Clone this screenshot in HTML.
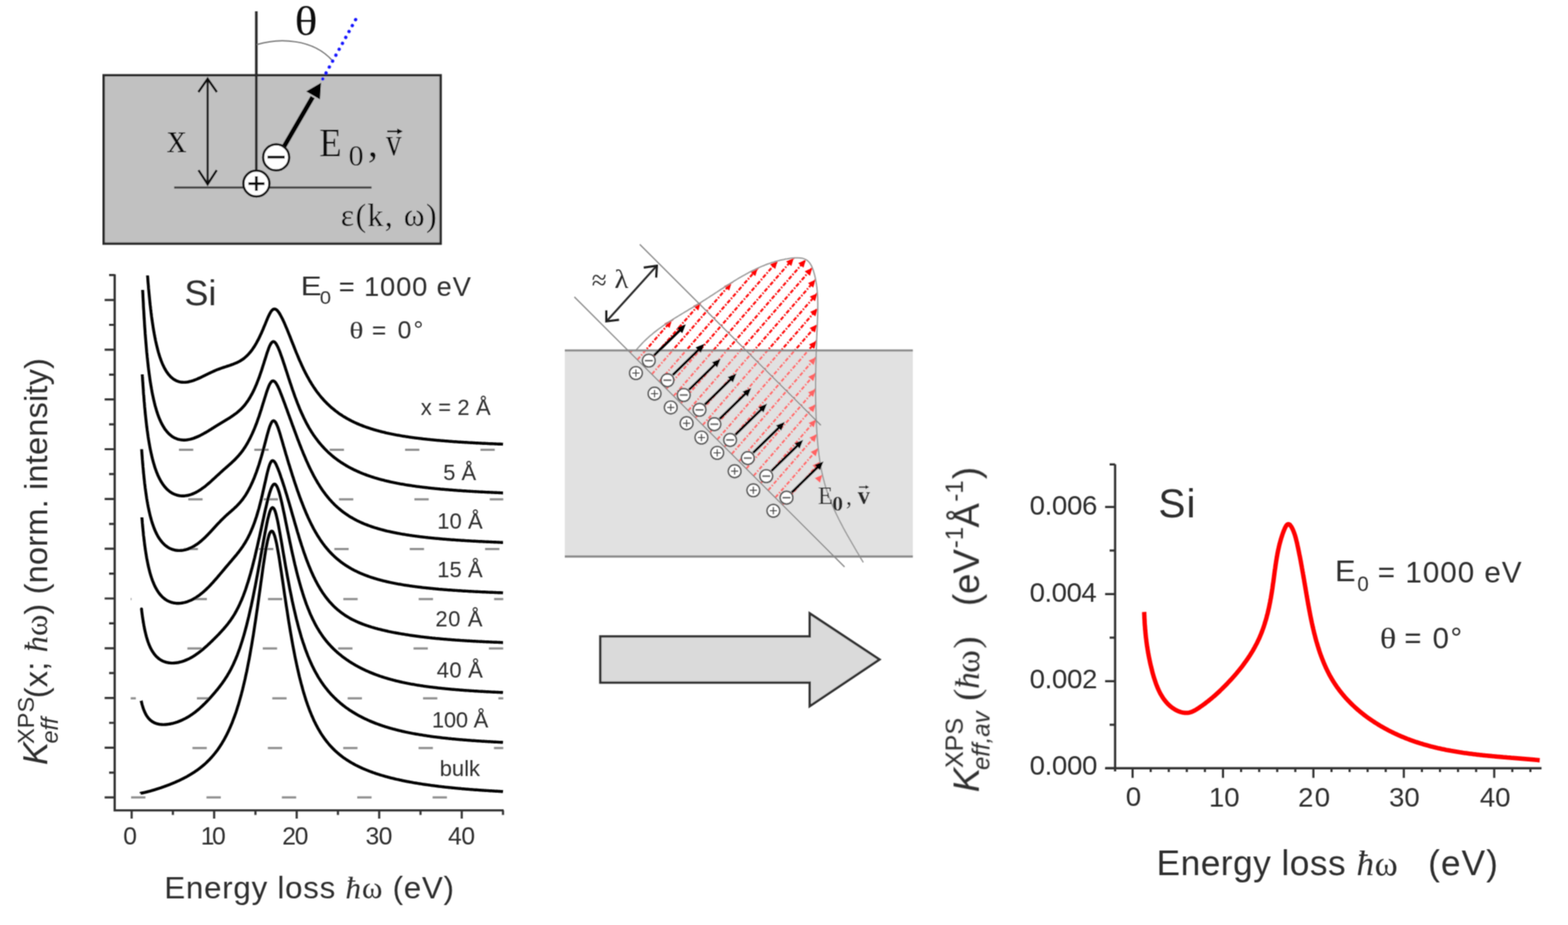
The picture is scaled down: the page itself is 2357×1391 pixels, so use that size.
<!DOCTYPE html>
<html><head><meta charset="utf-8"><title>Figure</title>
<style>html,body{margin:0;padding:0;background:#fff;}svg{display:block;}</style>
</head><body>
<svg width="2357" height="1391" viewBox="0 0 2357 1391">
<defs><filter id="soft" x="0" y="0" width="2357" height="1391" filterUnits="userSpaceOnUse"><feConvolveMatrix order="3" kernelMatrix="1 2 1 2 4 2 1 2 1" divisor="16" edgeMode="duplicate"/></filter></defs>
<rect width="100%" height="100%" fill="#fff"/>
<g filter="url(#soft)">
<rect x="155.8" y="113.2" width="506.6" height="253.2" fill="#c1c1c1" stroke="#2b2b2b" stroke-width="3.6"/>
<line x1="385.3" y1="17" x2="385.3" y2="262" stroke="#2a2a2a" stroke-width="3.9"/>
<path d="M386,67 C420,57 470,58 499.5,91" fill="none" stroke="#777" stroke-width="2"/>
<line x1="534.6" y1="29.5" x2="480.3" y2="127.5" stroke="#1515ff" stroke-width="5" stroke-linecap="round" stroke-dasharray="0.1 10.09"/>
<line x1="312.1" y1="118" x2="312.1" y2="278" stroke="#111" stroke-width="3.1"/>
<polyline points="298.2,138.5 312.1,118.5 326,138.5" fill="none" stroke="#111" stroke-width="3.4" stroke-linejoin="miter"/>
<polyline points="298.4,255.8 312.1,277 325.8,255.8" fill="none" stroke="#111" stroke-width="3.4" stroke-linejoin="miter"/>
<line x1="261.8" y1="281.9" x2="558.5" y2="281.9" stroke="#3a3a3a" stroke-width="3"/>
<line x1="426" y1="222" x2="470" y2="146" stroke="#000" stroke-width="7"/>
<polygon points="482.5,124.5 460.3,137.5 481,149.5" fill="#000"/>
<circle cx="385.4" cy="276" r="19.6" fill="#fff" stroke="#151515" stroke-width="3.5"/>
<line x1="373.5" y1="276.2" x2="397.5" y2="276.2" stroke="#111" stroke-width="4"/>
<line x1="385.4" y1="265" x2="385.4" y2="287" stroke="#111" stroke-width="4"/>
<circle cx="415.1" cy="236.7" r="19.6" fill="#fff" stroke="#151515" stroke-width="3.5"/>
<line x1="402.2" y1="236.3" x2="428" y2="236.3" stroke="#111" stroke-width="4"/>
<line x1="582" y1="197.6" x2="601" y2="197.6" stroke="#111" stroke-width="2.4"/>
<polygon points="605.5,197.6 597,193.2 597,202" fill="#111"/>
<path d="M269.0,676.3H290.5M382.3,676.3H403.8M495.6,676.3H517.1M608.9,676.3H630.4M722.2,676.3H743.7" stroke="#8c8c8c" stroke-width="3.2" fill="none"/>
<path d="M283.0,750.8H304.5M396.3,750.8H417.8M509.6,750.8H531.1M622.9,750.8H644.4M736.2,750.8H756.5" stroke="#8c8c8c" stroke-width="3.2" fill="none"/>
<path d="M276.0,825.7H297.5M389.3,825.7H410.8M502.6,825.7H524.1M615.9,825.7H637.4M729.2,825.7H750.7" stroke="#8c8c8c" stroke-width="3.2" fill="none"/>
<path d="M196.5,900.9H197.7M289.5,900.9H311.0M402.8,900.9H424.3M516.1,900.9H537.6M629.4,900.9H650.9M742.7,900.9H756.5" stroke="#8c8c8c" stroke-width="3.2" fill="none"/>
<path d="M281.7,975.1H303.2M395.0,975.1H416.5M508.3,975.1H529.8M621.6,975.1H643.1M734.9,975.1H756.4" stroke="#8c8c8c" stroke-width="3.2" fill="none"/>
<path d="M196.5,1050.1H204.2M296.0,1050.1H317.5M409.3,1050.1H430.8M522.6,1050.1H544.1M635.9,1050.1H657.4M749.2,1050.1H756.5" stroke="#8c8c8c" stroke-width="3.2" fill="none"/>
<path d="M289.3,1124.8H310.8M402.6,1124.8H424.1M515.9,1124.8H537.4M629.2,1124.8H650.7M742.5,1124.8H756.5" stroke="#8c8c8c" stroke-width="3.2" fill="none"/>
<path d="M197.1,1199.2H218.6M310.4,1199.2H331.9M423.7,1199.2H445.2M537.0,1199.2H558.5M650.3,1199.2H671.8" stroke="#8c8c8c" stroke-width="3.2" fill="none"/>
<path d="M221.8,414.3 L221.8,414.8 L222.1,417.9 L222.3,421.0 L222.5,424.1 L222.8,427.3 L223.1,430.4 L223.3,433.5 L223.6,436.6 L223.9,439.8 L224.2,442.9 L224.5,446.0 L224.8,449.1 L225.1,452.1 L225.4,455.2 L225.7,458.2 L226.1,461.2 L226.4,464.2 L226.8,467.2 L227.1,470.1 L227.5,473.0 L227.8,475.8 L228.2,478.6 L228.6,481.4 L229.0,484.2 L229.4,486.9 L229.8,489.5 L230.2,492.2 L230.6,494.7 L231.0,497.3 L231.5,499.8 L231.9,502.2 L232.4,504.7 L232.8,507.0 L233.3,509.3 L233.7,511.6 L234.2,513.9 L234.7,516.0 L235.2,518.2 L235.7,520.3 L236.2,522.3 L236.7,524.4 L237.2,526.3 L237.7,528.2 L238.2,530.1 L238.8,531.9 L239.3,533.7 L239.9,535.5 L240.4,537.2 L241.0,538.8 L241.6,540.4 L242.1,542.0 L242.7,543.5 L243.3,545.0 L243.9,546.5 L244.5,547.9 L245.1,549.2 L245.8,550.6 L246.4,551.9 L247.0,553.1 L247.7,554.3 L248.3,555.5 L249.0,556.6 L249.6,557.7 L250.3,558.7 L251.0,559.8 L251.7,560.7 L252.3,561.7 L253.0,562.6 L253.7,563.5 L254.5,564.3 L255.2,565.1 L255.9,565.9 L256.6,566.6 L257.4,567.3 L258.1,568.0 L258.9,568.6 L259.6,569.2 L260.4,569.8 L261.2,570.3 L262.0,570.8 L262.7,571.3 L263.5,571.7 L264.3,572.2 L265.1,572.5 L266.0,572.9 L266.8,573.2 L267.6,573.5 L268.2,573.7 L269.5,574.1 L270.7,574.3 L271.9,574.6 L273.1,574.7 L274.4,574.8 L275.6,574.9 L276.8,574.9 L278.0,574.9 L279.2,574.8 L280.5,574.6 L281.7,574.5 L282.9,574.3 L284.1,574.0 L285.4,573.7 L286.6,573.4 L287.8,573.1 L289.0,572.7 L290.3,572.3 L291.5,571.9 L292.7,571.4 L293.9,571.0 L295.1,570.5 L296.4,570.0 L297.6,569.4 L298.8,568.9 L300.0,568.4 L301.3,567.8 L302.5,567.2 L303.7,566.6 L304.9,566.0 L306.1,565.4 L307.4,564.8 L308.6,564.2 L309.8,563.6 L311.0,563.0 L312.3,562.4 L313.5,561.8 L314.7,561.3 L315.9,560.7 L317.2,560.1 L318.4,559.5 L319.6,559.0 L320.8,558.4 L322.0,557.9 L323.3,557.3 L324.5,556.8 L325.7,556.3 L326.9,555.8 L328.2,555.3 L329.4,554.9 L330.6,554.4 L331.8,554.0 L333.0,553.5 L334.3,553.1 L335.5,552.7 L336.7,552.3 L337.9,551.9 L339.2,551.5 L340.4,551.1 L341.6,550.7 L342.8,550.3 L344.1,549.9 L345.3,549.5 L346.5,549.1 L347.7,548.6 L348.9,548.2 L350.2,547.8 L351.4,547.3 L352.6,546.8 L353.8,546.3 L355.1,545.8 L356.3,545.2 L357.5,544.6 L358.7,544.0 L359.9,543.4 L361.2,542.7 L362.4,541.9 L363.6,541.1 L364.8,540.3 L366.1,539.4 L367.3,538.5 L368.5,537.4 L369.7,536.4 L371.0,535.2 L372.2,534.0 L373.4,532.8 L374.6,531.4 L375.8,530.0 L377.1,528.5 L378.3,526.9 L379.5,525.2 L380.7,523.4 L382.0,521.6 L383.2,519.6 L384.4,517.6 L385.6,515.5 L386.8,513.2 L388.1,510.9 L389.3,508.5 L390.5,506.0 L391.7,503.4 L393.0,500.7 L394.2,497.9 L395.4,495.1 L396.6,492.1 L397.9,489.2 L399.1,486.2 L400.3,483.2 L401.5,480.3 L402.7,477.5 L404.0,474.8 L405.2,472.3 L406.4,470.1 L407.6,468.2 L408.9,466.6 L410.1,465.5 L411.3,464.8 L412.5,464.6 L413.7,464.8 L415.0,465.4 L416.2,466.3 L417.4,467.6 L418.6,469.1 L419.9,471.0 L421.1,473.0 L422.3,475.2 L423.5,477.5 L424.8,480.0 L426.0,482.6 L427.2,485.2 L428.4,488.0 L429.6,490.9 L430.9,493.8 L432.1,496.8 L433.3,499.8 L434.5,502.8 L435.8,505.9 L437.0,509.0 L438.2,512.1 L439.4,515.2 L440.7,518.3 L441.9,521.4 L443.1,524.5 L444.3,527.5 L445.5,530.5 L446.8,533.5 L448.0,536.4 L449.2,539.3 L450.4,542.1 L451.7,544.9 L452.9,547.6 L454.1,550.3 L455.3,552.9 L456.5,555.5 L457.8,558.0 L459.0,560.4 L460.2,562.8 L461.4,565.1 L462.7,567.3 L463.9,569.5 L465.1,571.7 L466.3,573.8 L467.6,575.8 L468.8,577.8 L470.0,579.7 L471.2,581.6 L472.4,583.4 L473.7,585.2 L474.9,587.0 L476.1,588.7 L477.3,590.3 L478.6,591.9 L479.8,593.5 L481.0,595.0 L482.2,596.5 L483.4,597.9 L484.7,599.3 L485.9,600.7 L487.1,602.1 L488.3,603.4 L489.6,604.6 L490.8,605.9 L492.0,607.1 L493.2,608.3 L494.5,609.4 L495.7,610.6 L496.9,611.7 L498.1,612.8 L499.3,613.8 L500.6,614.8 L501.8,615.8 L503.0,616.8 L504.2,617.8 L505.5,618.7 L506.7,619.6 L507.9,620.5 L509.1,621.4 L510.3,622.3 L511.6,623.1 L512.8,623.9 L514.0,624.7 L515.2,625.5 L516.5,626.3 L517.7,627.0 L518.9,627.7 L520.1,628.5 L521.4,629.2 L522.6,629.9 L523.8,630.5 L525.0,631.2 L526.2,631.8 L527.5,632.5 L528.7,633.1 L529.9,633.7 L531.1,634.3 L532.4,634.9 L533.6,635.5 L534.8,636.0 L536.0,636.6 L537.2,637.1 L538.5,637.6 L539.7,638.1 L540.9,638.7 L542.1,639.2 L543.4,639.6 L544.6,640.1 L545.8,640.6 L547.0,641.1 L548.3,641.5 L549.5,642.0 L550.7,642.4 L551.9,642.8 L553.1,643.2 L554.4,643.6 L555.6,644.0 L556.8,644.4 L558.0,644.8 L559.3,645.2 L560.5,645.6 L561.7,646.0 L562.9,646.3 L564.2,646.7 L565.4,647.0 L566.6,647.4 L567.8,647.7 L569.0,648.0 L570.3,648.4 L571.5,648.7 L572.7,649.0 L573.9,649.3 L575.2,649.6 L576.4,649.9 L577.6,650.2 L578.8,650.5 L580.0,650.8 L581.3,651.1 L582.5,651.3 L583.7,651.6 L584.9,651.9 L586.2,652.1 L587.4,652.4 L588.6,652.6 L589.8,652.9 L591.1,653.1 L592.3,653.4 L593.5,653.6 L594.7,653.8 L595.9,654.1 L597.2,654.3 L598.4,654.5 L599.6,654.7 L600.8,654.9 L602.1,655.2 L603.3,655.4 L604.5,655.6 L605.7,655.8 L606.9,656.0 L608.2,656.2 L609.4,656.4 L610.6,656.6 L611.8,656.7 L613.1,656.9 L614.3,657.1 L615.5,657.3 L616.7,657.5 L618.0,657.6 L619.2,657.8 L620.4,658.0 L621.6,658.1 L622.8,658.3 L624.1,658.5 L625.3,658.6 L626.5,658.8 L627.7,658.9 L629.0,659.1 L630.2,659.2 L631.4,659.4 L632.6,659.5 L633.8,659.7 L635.1,659.8 L636.3,660.0 L637.5,660.1 L638.7,660.2 L640.0,660.4 L641.2,660.5 L642.4,660.6 L643.6,660.8 L644.9,660.9 L646.1,661.0 L647.3,661.1 L648.5,661.3 L649.7,661.4 L651.0,661.5 L652.2,661.6 L653.4,661.7 L654.6,661.9 L655.9,662.0 L657.1,662.1 L658.3,662.2 L659.5,662.3 L660.7,662.4 L662.0,662.5 L663.2,662.6 L664.4,662.7 L665.6,662.8 L666.9,662.9 L668.1,663.0 L669.3,663.1 L670.5,663.2 L671.8,663.3 L673.0,663.4 L674.2,663.5 L675.4,663.6 L676.6,663.7 L677.9,663.8 L679.1,663.9 L680.3,664.0 L681.5,664.1 L682.8,664.2 L684.0,664.2 L685.2,664.3 L686.4,664.4 L687.6,664.5 L688.9,664.6 L690.1,664.7 L691.3,664.7 L692.5,664.8 L693.8,664.9 L695.0,665.0 L696.2,665.0 L697.4,665.1 L698.7,665.2 L699.9,665.3 L701.1,665.3 L702.3,665.4 L703.5,665.5 L704.8,665.6 L706.0,665.6 L707.2,665.7 L708.4,665.8 L709.7,665.8 L710.9,665.9 L712.1,666.0 L713.3,666.0 L714.6,666.1 L715.8,666.2 L717.0,666.2 L718.2,666.3 L719.4,666.4 L720.7,666.4 L721.9,666.5 L723.1,666.5 L724.3,666.6 L725.6,666.7 L726.8,666.7 L728.0,666.8 L729.2,666.8 L730.4,666.9 L731.7,666.9 L732.9,667.0 L734.1,667.1 L735.3,667.1 L736.6,667.2 L737.8,667.2 L739.0,667.3 L740.2,667.3 L741.5,667.4 L742.7,667.4 L743.9,667.5 L745.1,667.5 L746.3,667.6 L747.6,667.6 L748.8,667.7 L750.0,667.7 L751.2,667.8 L752.5,667.8 L753.7,667.9 L754.9,667.9 L756.1,668.0" fill="none" stroke="#000" stroke-width="4.4" stroke-linejoin="round" stroke-linecap="butt"/>
<path d="M214.4,435.9 L214.4,436.4 L214.6,439.6 L214.8,442.9 L214.9,446.3 L215.1,449.7 L215.3,453.2 L215.5,456.7 L215.6,460.3 L215.8,464.0 L216.1,467.6 L216.3,471.3 L216.5,475.0 L216.7,478.8 L217.0,482.5 L217.2,486.2 L217.4,490.0 L217.7,493.7 L218.0,497.5 L218.2,501.2 L218.5,504.9 L218.8,508.6 L219.1,512.2 L219.4,515.8 L219.7,519.4 L220.0,523.0 L220.3,526.5 L220.6,530.0 L221.0,533.5 L221.3,536.9 L221.7,540.3 L222.0,543.6 L222.4,546.8 L222.7,550.1 L223.1,553.2 L223.5,556.4 L223.9,559.4 L224.3,562.5 L224.7,565.4 L225.1,568.3 L225.5,571.2 L225.9,574.0 L226.4,576.8 L226.8,579.5 L227.3,582.1 L227.7,584.7 L228.2,587.3 L228.6,589.7 L229.1,592.2 L229.6,594.6 L230.1,596.9 L230.6,599.2 L231.1,601.4 L231.6,603.6 L232.1,605.7 L232.6,607.8 L233.1,609.8 L233.7,611.8 L234.2,613.7 L234.8,615.6 L235.3,617.4 L235.9,619.2 L236.5,621.0 L237.0,622.7 L237.6,624.3 L238.2,625.9 L238.8,627.5 L239.4,629.0 L240.0,630.5 L240.7,631.9 L241.3,633.3 L241.9,634.7 L242.6,636.0 L243.2,637.3 L243.9,638.5 L244.5,639.7 L245.2,640.9 L245.9,642.0 L246.6,643.1 L247.2,644.2 L247.9,645.2 L248.6,646.2 L249.4,647.1 L250.1,648.1 L250.8,648.9 L251.5,649.8 L252.3,650.6 L253.0,651.4 L253.8,652.2 L254.5,652.9 L255.3,653.6 L256.1,654.2 L256.9,654.9 L257.6,655.5 L258.4,656.1 L259.2,656.6 L260.0,657.1 L260.9,657.6 L261.7,658.1 L262.5,658.5 L263.1,658.8 L264.4,659.3 L265.6,659.8 L266.8,660.3 L268.1,660.6 L269.3,660.9 L270.6,661.2 L271.8,661.4 L273.0,661.5 L274.3,661.6 L275.5,661.7 L276.7,661.7 L278.0,661.7 L279.2,661.6 L280.4,661.5 L281.7,661.3 L282.9,661.1 L284.1,660.9 L285.4,660.7 L286.6,660.4 L287.9,660.0 L289.1,659.7 L290.3,659.3 L291.6,658.9 L292.8,658.4 L294.0,657.9 L295.3,657.4 L296.5,656.9 L297.7,656.4 L299.0,655.8 L300.2,655.2 L301.4,654.6 L302.7,653.9 L303.9,653.3 L305.1,652.6 L306.4,651.9 L307.6,651.2 L308.9,650.5 L310.1,649.8 L311.3,649.1 L312.6,648.3 L313.8,647.6 L315.0,646.8 L316.3,646.1 L317.5,645.3 L318.7,644.5 L320.0,643.8 L321.2,643.0 L322.4,642.2 L323.7,641.5 L324.9,640.7 L326.2,639.9 L327.4,639.2 L328.6,638.4 L329.9,637.6 L331.1,636.9 L332.3,636.1 L333.6,635.4 L334.8,634.6 L336.0,633.9 L337.3,633.1 L338.5,632.4 L339.7,631.6 L341.0,630.8 L342.2,630.1 L343.5,629.3 L344.7,628.6 L345.9,627.8 L347.2,627.0 L348.4,626.2 L349.6,625.3 L350.9,624.5 L352.1,623.6 L353.3,622.7 L354.6,621.8 L355.8,620.9 L357.0,619.9 L358.3,618.8 L359.5,617.7 L360.7,616.6 L362.0,615.5 L363.2,614.2 L364.5,612.9 L365.7,611.6 L366.9,610.2 L368.2,608.7 L369.4,607.1 L370.6,605.4 L371.9,603.7 L373.1,601.9 L374.3,600.0 L375.6,598.0 L376.8,595.8 L378.0,593.6 L379.3,591.3 L380.5,588.9 L381.8,586.3 L383.0,583.6 L384.2,580.8 L385.5,577.9 L386.7,574.8 L387.9,571.7 L389.2,568.4 L390.4,565.0 L391.6,561.4 L392.9,557.8 L394.1,554.0 L395.3,550.1 L396.6,546.2 L397.8,542.2 L399.1,538.3 L400.3,534.4 L401.5,530.5 L402.8,526.9 L404.0,523.5 L405.2,520.5 L406.5,518.0 L407.7,516.0 L408.9,514.6 L410.2,513.8 L411.4,513.7 L412.6,514.3 L413.9,515.4 L415.1,517.1 L416.3,519.2 L417.6,521.7 L418.8,524.5 L420.1,527.6 L421.3,530.8 L422.5,534.2 L423.8,537.7 L425.0,541.3 L426.2,545.0 L427.5,548.8 L428.7,552.5 L429.9,556.3 L431.2,560.1 L432.4,563.9 L433.6,567.7 L434.9,571.5 L436.1,575.2 L437.4,578.9 L438.6,582.6 L439.8,586.2 L441.1,589.8 L442.3,593.2 L443.5,596.7 L444.8,600.0 L446.0,603.3 L447.2,606.5 L448.5,609.6 L449.7,612.6 L450.9,615.6 L452.2,618.5 L453.4,621.3 L454.7,624.0 L455.9,626.7 L457.1,629.3 L458.4,631.8 L459.6,634.2 L460.8,636.6 L462.1,638.9 L463.3,641.1 L464.5,643.3 L465.8,645.4 L467.0,647.4 L468.2,649.4 L469.5,651.3 L470.7,653.2 L471.9,655.0 L473.2,656.8 L474.4,658.5 L475.7,660.2 L476.9,661.8 L478.1,663.4 L479.4,665.0 L480.6,666.5 L481.8,667.9 L483.1,669.4 L484.3,670.8 L485.5,672.1 L486.8,673.5 L488.0,674.8 L489.2,676.0 L490.5,677.3 L491.7,678.5 L493.0,679.7 L494.2,680.8 L495.4,681.9 L496.7,683.0 L497.9,684.1 L499.1,685.2 L500.4,686.2 L501.6,687.2 L502.8,688.2 L504.1,689.1 L505.3,690.1 L506.5,691.0 L507.8,691.9 L509.0,692.8 L510.3,693.6 L511.5,694.5 L512.7,695.3 L514.0,696.1 L515.2,696.9 L516.4,697.7 L517.7,698.5 L518.9,699.2 L520.1,700.0 L521.4,700.7 L522.6,701.4 L523.8,702.1 L525.1,702.8 L526.3,703.4 L527.5,704.1 L528.8,704.7 L530.0,705.3 L531.3,706.0 L532.5,706.6 L533.7,707.1 L535.0,707.7 L536.2,708.3 L537.4,708.9 L538.7,709.4 L539.9,709.9 L541.1,710.5 L542.4,711.0 L543.6,711.5 L544.8,712.0 L546.1,712.5 L547.3,713.0 L548.6,713.4 L549.8,713.9 L551.0,714.4 L552.3,714.8 L553.5,715.2 L554.7,715.7 L556.0,716.1 L557.2,716.5 L558.4,716.9 L559.7,717.3 L560.9,717.7 L562.1,718.1 L563.4,718.5 L564.6,718.9 L565.9,719.2 L567.1,719.6 L568.3,719.9 L569.6,720.3 L570.8,720.6 L572.0,721.0 L573.3,721.3 L574.5,721.6 L575.7,721.9 L577.0,722.2 L578.2,722.6 L579.4,722.9 L580.7,723.2 L581.9,723.5 L583.1,723.7 L584.4,724.0 L585.6,724.3 L586.9,724.6 L588.1,724.9 L589.3,725.1 L590.6,725.4 L591.8,725.6 L593.0,725.9 L594.3,726.1 L595.5,726.4 L596.7,726.6 L598.0,726.9 L599.2,727.1 L600.4,727.3 L601.7,727.6 L602.9,727.8 L604.2,728.0 L605.4,728.2 L606.6,728.4 L607.9,728.6 L609.1,728.9 L610.3,729.1 L611.6,729.3 L612.8,729.5 L614.0,729.7 L615.3,729.8 L616.5,730.0 L617.7,730.2 L619.0,730.4 L620.2,730.6 L621.4,730.8 L622.7,730.9 L623.9,731.1 L625.2,731.3 L626.4,731.5 L627.6,731.6 L628.9,731.8 L630.1,731.9 L631.3,732.1 L632.6,732.3 L633.8,732.4 L635.0,732.6 L636.3,732.7 L637.5,732.9 L638.7,733.0 L640.0,733.2 L641.2,733.3 L642.5,733.4 L643.7,733.6 L644.9,733.7 L646.2,733.9 L647.4,734.0 L648.6,734.1 L649.9,734.3 L651.1,734.4 L652.3,734.5 L653.6,734.6 L654.8,734.8 L656.0,734.9 L657.3,735.0 L658.5,735.1 L659.8,735.2 L661.0,735.3 L662.2,735.5 L663.5,735.6 L664.7,735.7 L665.9,735.8 L667.2,735.9 L668.4,736.0 L669.6,736.1 L670.9,736.2 L672.1,736.3 L673.3,736.4 L674.6,736.5 L675.8,736.6 L677.0,736.7 L678.3,736.8 L679.5,736.9 L680.8,737.0 L682.0,737.1 L683.2,737.2 L684.5,737.3 L685.7,737.4 L686.9,737.5 L688.2,737.6 L689.4,737.7 L690.6,737.7 L691.9,737.8 L693.1,737.9 L694.3,738.0 L695.6,738.1 L696.8,738.2 L698.1,738.2 L699.3,738.3 L700.5,738.4 L701.8,738.5 L703.0,738.6 L704.2,738.6 L705.5,738.7 L706.7,738.8 L707.9,738.9 L709.2,738.9 L710.4,739.0 L711.6,739.1 L712.9,739.1 L714.1,739.2 L715.4,739.3 L716.6,739.4 L717.8,739.4 L719.1,739.5 L720.3,739.6 L721.5,739.6 L722.8,739.7 L724.0,739.8 L725.2,739.8 L726.5,739.9 L727.7,739.9 L728.9,740.0 L730.2,740.1 L731.4,740.1 L732.6,740.2 L733.9,740.2 L735.1,740.3 L736.4,740.4 L737.6,740.4 L738.8,740.5 L740.1,740.5 L741.3,740.6 L742.5,740.6 L743.8,740.7 L745.0,740.8 L746.2,740.8 L747.5,740.9 L748.7,740.9 L749.9,741.0 L751.2,741.0 L752.4,741.1 L753.7,741.1 L754.9,741.2 L756.1,741.2" fill="none" stroke="#000" stroke-width="4.4" stroke-linejoin="round" stroke-linecap="butt"/>
<path d="M213.9,563.1 L213.9,563.4 L214.0,565.4 L214.2,567.6 L214.3,569.8 L214.4,572.1 L214.6,574.4 L214.8,576.8 L214.9,579.3 L215.1,581.8 L215.3,584.4 L215.5,587.0 L215.6,589.7 L215.8,592.4 L216.1,595.1 L216.3,597.8 L216.5,600.6 L216.7,603.4 L217.0,606.1 L217.2,608.9 L217.4,611.7 L217.7,614.5 L218.0,617.3 L218.2,620.1 L218.5,622.9 L218.8,625.6 L219.1,628.4 L219.4,631.1 L219.7,633.9 L220.0,636.5 L220.3,639.2 L220.6,641.9 L221.0,644.5 L221.3,647.1 L221.7,649.6 L222.0,652.2 L222.4,654.7 L222.7,657.1 L223.1,659.6 L223.5,662.0 L223.9,664.3 L224.3,666.7 L224.7,669.0 L225.1,671.2 L225.5,673.4 L225.9,675.6 L226.4,677.7 L226.8,679.8 L227.3,681.9 L227.7,683.9 L228.2,685.9 L228.6,687.9 L229.1,689.8 L229.6,691.6 L230.1,693.5 L230.6,695.3 L231.1,697.0 L231.6,698.7 L232.1,700.4 L232.6,702.1 L233.1,703.7 L233.7,705.3 L234.2,706.8 L234.8,708.3 L235.3,709.8 L235.9,711.2 L236.5,712.6 L237.0,714.0 L237.6,715.3 L238.2,716.6 L238.8,717.8 L239.4,719.1 L240.0,720.3 L240.7,721.4 L241.3,722.6 L241.9,723.7 L242.6,724.8 L243.2,725.8 L243.9,726.8 L244.5,727.8 L245.2,728.8 L245.9,729.7 L246.6,730.6 L247.2,731.5 L247.9,732.3 L248.6,733.1 L249.4,733.9 L250.1,734.7 L250.8,735.4 L251.5,736.1 L252.3,736.8 L253.0,737.4 L253.8,738.1 L254.5,738.7 L255.3,739.3 L256.1,739.8 L256.9,740.3 L257.6,740.8 L258.4,741.3 L259.2,741.8 L260.0,742.2 L260.9,742.6 L261.7,743.0 L262.5,743.3 L263.1,743.6 L264.4,744.0 L265.6,744.4 L266.8,744.8 L268.1,745.0 L269.3,745.3 L270.6,745.5 L271.8,745.6 L273.0,745.7 L274.3,745.7 L275.5,745.7 L276.7,745.7 L278.0,745.6 L279.2,745.4 L280.4,745.3 L281.7,745.0 L282.9,744.8 L284.1,744.5 L285.4,744.1 L286.6,743.8 L287.9,743.3 L289.1,742.9 L290.3,742.4 L291.6,741.9 L292.8,741.3 L294.0,740.7 L295.3,740.0 L296.5,739.4 L297.7,738.7 L299.0,737.9 L300.2,737.2 L301.4,736.3 L302.7,735.5 L303.9,734.6 L305.1,733.7 L306.4,732.8 L307.6,731.9 L308.9,730.9 L310.1,729.9 L311.3,728.9 L312.6,727.8 L313.8,726.8 L315.0,725.7 L316.3,724.6 L317.5,723.5 L318.7,722.4 L320.0,721.2 L321.2,720.1 L322.4,719.0 L323.7,717.8 L324.9,716.7 L326.2,715.5 L327.4,714.4 L328.6,713.3 L329.9,712.1 L331.1,711.0 L332.3,709.9 L333.6,708.8 L334.8,707.6 L336.0,706.5 L337.3,705.4 L338.5,704.4 L339.7,703.3 L341.0,702.2 L342.2,701.1 L343.5,700.0 L344.7,698.9 L345.9,697.8 L347.2,696.7 L348.4,695.6 L349.6,694.4 L350.9,693.3 L352.1,692.1 L353.3,690.9 L354.6,689.6 L355.8,688.3 L357.0,687.0 L358.3,685.6 L359.5,684.2 L360.7,682.7 L362.0,681.2 L363.2,679.6 L364.5,678.0 L365.7,676.2 L366.9,674.4 L368.2,672.6 L369.4,670.6 L370.6,668.6 L371.9,666.5 L373.1,664.3 L374.3,662.0 L375.6,659.6 L376.8,657.1 L378.0,654.6 L379.3,651.9 L380.5,649.1 L381.8,646.2 L383.0,643.2 L384.2,640.1 L385.5,636.9 L386.7,633.5 L387.9,630.1 L389.2,626.5 L390.4,622.8 L391.6,619.0 L392.9,615.2 L394.1,611.2 L395.3,607.2 L396.6,603.1 L397.8,599.1 L399.1,595.1 L400.3,591.2 L401.5,587.5 L402.8,584.0 L404.0,580.9 L405.2,578.2 L406.5,576.0 L407.7,574.3 L408.9,573.2 L410.2,572.8 L411.4,572.9 L412.6,573.6 L413.9,574.8 L415.1,576.5 L416.3,578.6 L417.6,581.0 L418.8,583.7 L420.1,586.5 L421.3,589.5 L422.5,592.7 L423.8,595.9 L425.0,599.1 L426.2,602.4 L427.5,605.7 L428.7,609.1 L429.9,612.4 L431.2,615.8 L432.4,619.2 L433.6,622.6 L434.9,626.0 L436.1,629.4 L437.4,632.8 L438.6,636.2 L439.8,639.6 L441.1,642.9 L442.3,646.3 L443.5,649.6 L444.8,653.0 L446.0,656.3 L447.2,659.6 L448.5,662.8 L449.7,666.0 L450.9,669.2 L452.2,672.4 L453.4,675.5 L454.7,678.5 L455.9,681.6 L457.1,684.5 L458.4,687.4 L459.6,690.3 L460.8,693.1 L462.1,695.9 L463.3,698.6 L464.5,701.3 L465.8,703.9 L467.0,706.4 L468.2,708.9 L469.5,711.3 L470.7,713.7 L471.9,716.1 L473.2,718.3 L474.4,720.6 L475.7,722.7 L476.9,724.8 L478.1,726.9 L479.4,728.9 L480.6,730.9 L481.8,732.8 L483.1,734.7 L484.3,736.5 L485.5,738.2 L486.8,740.0 L488.0,741.6 L489.2,743.3 L490.5,744.9 L491.7,746.4 L493.0,748.0 L494.2,749.4 L495.4,750.9 L496.7,752.3 L497.9,753.6 L499.1,755.0 L500.4,756.3 L501.6,757.5 L502.8,758.8 L504.1,760.0 L505.3,761.1 L506.5,762.3 L507.8,763.4 L509.0,764.4 L510.3,765.5 L511.5,766.5 L512.7,767.5 L514.0,768.5 L515.2,769.5 L516.4,770.4 L517.7,771.3 L518.9,772.2 L520.1,773.0 L521.4,773.9 L522.6,774.7 L523.8,775.5 L525.1,776.3 L526.3,777.1 L527.5,777.8 L528.8,778.5 L530.0,779.2 L531.3,779.9 L532.5,780.6 L533.7,781.3 L535.0,781.9 L536.2,782.6 L537.4,783.2 L538.7,783.8 L539.9,784.4 L541.1,785.0 L542.4,785.5 L543.6,786.1 L544.8,786.6 L546.1,787.1 L547.3,787.7 L548.6,788.2 L549.8,788.7 L551.0,789.1 L552.3,789.6 L553.5,790.1 L554.7,790.5 L556.0,791.0 L557.2,791.4 L558.4,791.9 L559.7,792.3 L560.9,792.7 L562.1,793.1 L563.4,793.5 L564.6,793.9 L565.9,794.2 L567.1,794.6 L568.3,795.0 L569.6,795.3 L570.8,795.7 L572.0,796.0 L573.3,796.4 L574.5,796.7 L575.7,797.0 L577.0,797.3 L578.2,797.7 L579.4,798.0 L580.7,798.3 L581.9,798.6 L583.1,798.8 L584.4,799.1 L585.6,799.4 L586.9,799.7 L588.1,800.0 L589.3,800.2 L590.6,800.5 L591.8,800.7 L593.0,801.0 L594.3,801.2 L595.5,801.5 L596.7,801.7 L598.0,802.0 L599.2,802.2 L600.4,802.4 L601.7,802.6 L602.9,802.9 L604.2,803.1 L605.4,803.3 L606.6,803.5 L607.9,803.7 L609.1,803.9 L610.3,804.1 L611.6,804.3 L612.8,804.5 L614.0,804.7 L615.3,804.9 L616.5,805.1 L617.7,805.2 L619.0,805.4 L620.2,805.6 L621.4,805.8 L622.7,805.9 L623.9,806.1 L625.2,806.3 L626.4,806.4 L627.6,806.6 L628.9,806.7 L630.1,806.9 L631.3,807.1 L632.6,807.2 L633.8,807.4 L635.0,807.5 L636.3,807.6 L637.5,807.8 L638.7,807.9 L640.0,808.1 L641.2,808.2 L642.5,808.3 L643.7,808.5 L644.9,808.6 L646.2,808.7 L647.4,808.9 L648.6,809.0 L649.9,809.1 L651.1,809.2 L652.3,809.4 L653.6,809.5 L654.8,809.6 L656.0,809.7 L657.3,809.8 L658.5,809.9 L659.8,810.0 L661.0,810.2 L662.2,810.3 L663.5,810.4 L664.7,810.5 L665.9,810.6 L667.2,810.7 L668.4,810.8 L669.6,810.9 L670.9,811.0 L672.1,811.1 L673.3,811.2 L674.6,811.3 L675.8,811.4 L677.0,811.5 L678.3,811.6 L679.5,811.7 L680.8,811.7 L682.0,811.8 L683.2,811.9 L684.5,812.0 L685.7,812.1 L686.9,812.2 L688.2,812.3 L689.4,812.4 L690.6,812.4 L691.9,812.5 L693.1,812.6 L694.3,812.7 L695.6,812.8 L696.8,812.8 L698.1,812.9 L699.3,813.0 L700.5,813.1 L701.8,813.1 L703.0,813.2 L704.2,813.3 L705.5,813.4 L706.7,813.4 L707.9,813.5 L709.2,813.6 L710.4,813.6 L711.6,813.7 L712.9,813.8 L714.1,813.8 L715.4,813.9 L716.6,814.0 L717.8,814.0 L719.1,814.1 L720.3,814.2 L721.5,814.2 L722.8,814.3 L724.0,814.3 L725.2,814.4 L726.5,814.5 L727.7,814.5 L728.9,814.6 L730.2,814.6 L731.4,814.7 L732.6,814.8 L733.9,814.8 L735.1,814.9 L736.4,814.9 L737.6,815.0 L738.8,815.0 L740.1,815.1 L741.3,815.1 L742.5,815.2 L743.8,815.3 L745.0,815.3 L746.2,815.4 L747.5,815.4 L748.7,815.5 L749.9,815.5 L751.2,815.6 L752.4,815.6 L753.7,815.7 L754.9,815.7 L756.1,815.7" fill="none" stroke="#000" stroke-width="4.4" stroke-linejoin="round" stroke-linecap="butt"/>
<path d="M212.9,675.5 L212.9,675.6 L212.9,675.7 L212.9,676.0 L213.0,676.4 L213.0,676.8 L213.0,677.4 L213.1,678.1 L213.1,678.8 L213.2,679.7 L213.3,680.6 L213.3,681.7 L213.4,682.8 L213.5,684.0 L213.6,685.3 L213.7,686.7 L213.8,688.1 L213.9,689.6 L214.0,691.2 L214.2,692.8 L214.3,694.5 L214.4,696.3 L214.6,698.1 L214.8,700.0 L214.9,701.9 L215.1,703.8 L215.3,705.8 L215.5,707.8 L215.6,709.8 L215.8,711.9 L216.1,714.0 L216.3,716.1 L216.5,718.2 L216.7,720.4 L217.0,722.5 L217.2,724.6 L217.4,726.8 L217.7,729.0 L218.0,731.1 L218.2,733.3 L218.5,735.4 L218.8,737.5 L219.1,739.7 L219.4,741.8 L219.7,743.9 L220.0,746.0 L220.3,748.0 L220.6,750.1 L221.0,752.1 L221.3,754.1 L221.7,756.1 L222.0,758.1 L222.4,760.0 L222.7,761.9 L223.1,763.8 L223.5,765.6 L223.9,767.5 L224.3,769.3 L224.7,771.0 L225.1,772.8 L225.5,774.5 L225.9,776.2 L226.4,777.9 L226.8,779.5 L227.3,781.1 L227.7,782.6 L228.2,784.2 L228.6,785.7 L229.1,787.2 L229.6,788.6 L230.1,790.0 L230.6,791.4 L231.1,792.8 L231.6,794.1 L232.1,795.4 L232.6,796.7 L233.1,797.9 L233.7,799.1 L234.2,800.3 L234.8,801.5 L235.3,802.6 L235.9,803.7 L236.5,804.8 L237.0,805.8 L237.6,806.8 L238.2,807.8 L238.8,808.8 L239.4,809.7 L240.0,810.6 L240.7,811.5 L241.3,812.4 L241.9,813.2 L242.6,814.0 L243.2,814.8 L243.9,815.6 L244.5,816.3 L245.2,817.0 L245.9,817.7 L246.6,818.4 L247.2,819.0 L247.9,819.7 L248.6,820.2 L249.4,820.8 L250.1,821.4 L250.8,821.9 L251.5,822.4 L252.3,822.9 L253.0,823.3 L253.8,823.8 L254.5,824.2 L255.3,824.6 L256.1,825.0 L256.9,825.3 L257.6,825.6 L258.4,825.9 L259.2,826.2 L260.0,826.5 L260.9,826.7 L261.7,826.9 L262.5,827.1 L263.1,827.3 L264.4,827.5 L265.6,827.7 L266.8,827.8 L268.1,827.9 L269.3,827.9 L270.6,827.9 L271.8,827.8 L273.0,827.7 L274.3,827.6 L275.5,827.4 L276.7,827.1 L278.0,826.9 L279.2,826.6 L280.4,826.2 L281.7,825.8 L282.9,825.4 L284.1,824.9 L285.4,824.4 L286.6,823.9 L287.9,823.3 L289.1,822.6 L290.3,822.0 L291.6,821.3 L292.8,820.5 L294.0,819.7 L295.3,818.9 L296.5,818.1 L297.7,817.2 L299.0,816.2 L300.2,815.3 L301.4,814.3 L302.7,813.2 L303.9,812.1 L305.1,811.0 L306.4,809.9 L307.6,808.7 L308.9,807.6 L310.1,806.3 L311.3,805.1 L312.6,803.8 L313.8,802.5 L315.0,801.2 L316.3,799.9 L317.5,798.6 L318.7,797.2 L320.0,795.9 L321.2,794.5 L322.4,793.2 L323.7,791.8 L324.9,790.5 L326.2,789.1 L327.4,787.8 L328.6,786.5 L329.9,785.2 L331.1,783.9 L332.3,782.6 L333.6,781.4 L334.8,780.2 L336.0,779.0 L337.3,777.8 L338.5,776.6 L339.7,775.5 L341.0,774.3 L342.2,773.2 L343.5,772.1 L344.7,771.0 L345.9,770.0 L347.2,768.9 L348.4,767.8 L349.6,766.7 L350.9,765.6 L352.1,764.5 L353.3,763.3 L354.6,762.2 L355.8,761.0 L357.0,759.7 L358.3,758.4 L359.5,757.1 L360.7,755.7 L362.0,754.3 L363.2,752.7 L364.5,751.2 L365.7,749.5 L366.9,747.8 L368.2,746.0 L369.4,744.1 L370.6,742.1 L371.9,740.0 L373.1,737.8 L374.3,735.5 L375.6,733.1 L376.8,730.6 L378.0,728.0 L379.3,725.3 L380.5,722.4 L381.8,719.5 L383.0,716.4 L384.2,713.1 L385.5,709.8 L386.7,706.3 L387.9,702.7 L389.2,698.9 L390.4,695.0 L391.6,690.9 L392.9,686.7 L394.1,682.4 L395.3,677.9 L396.6,673.3 L397.8,668.7 L399.1,663.9 L400.3,659.2 L401.5,654.6 L402.8,650.2 L404.0,645.9 L405.2,642.1 L406.5,638.8 L407.7,636.1 L408.9,634.1 L410.2,633.0 L411.4,632.6 L412.6,633.2 L413.9,634.5 L415.1,636.5 L416.3,639.2 L417.6,642.3 L418.8,645.8 L420.1,649.7 L421.3,653.7 L422.5,657.8 L423.8,662.1 L425.0,666.3 L426.2,670.6 L427.5,674.8 L428.7,679.1 L429.9,683.3 L431.2,687.4 L432.4,691.6 L433.6,695.7 L434.9,699.7 L436.1,703.7 L437.4,707.7 L438.6,711.6 L439.8,715.5 L441.1,719.3 L442.3,723.1 L443.5,726.8 L444.8,730.5 L446.0,734.1 L447.2,737.7 L448.5,741.2 L449.7,744.7 L450.9,748.1 L452.2,751.4 L453.4,754.7 L454.7,757.9 L455.9,761.1 L457.1,764.2 L458.4,767.2 L459.6,770.1 L460.8,773.0 L462.1,775.8 L463.3,778.6 L464.5,781.2 L465.8,783.9 L467.0,786.4 L468.2,788.9 L469.5,791.3 L470.7,793.7 L471.9,796.0 L473.2,798.2 L474.4,800.4 L475.7,802.5 L476.9,804.6 L478.1,806.6 L479.4,808.5 L480.6,810.4 L481.8,812.3 L483.1,814.1 L484.3,815.8 L485.5,817.5 L486.8,819.2 L488.0,820.8 L489.2,822.3 L490.5,823.8 L491.7,825.3 L493.0,826.8 L494.2,828.2 L495.4,829.5 L496.7,830.9 L497.9,832.1 L499.1,833.4 L500.4,834.6 L501.6,835.8 L502.8,837.0 L504.1,838.1 L505.3,839.2 L506.5,840.3 L507.8,841.3 L509.0,842.3 L510.3,843.3 L511.5,844.3 L512.7,845.2 L514.0,846.2 L515.2,847.0 L516.4,847.9 L517.7,848.8 L518.9,849.6 L520.1,850.4 L521.4,851.2 L522.6,852.0 L523.8,852.7 L525.1,853.5 L526.3,854.2 L527.5,854.9 L528.8,855.6 L530.0,856.3 L531.3,856.9 L532.5,857.6 L533.7,858.2 L535.0,858.8 L536.2,859.4 L537.4,860.0 L538.7,860.6 L539.9,861.1 L541.1,861.7 L542.4,862.2 L543.6,862.7 L544.8,863.3 L546.1,863.8 L547.3,864.3 L548.6,864.7 L549.8,865.2 L551.0,865.7 L552.3,866.1 L553.5,866.6 L554.7,867.0 L556.0,867.5 L557.2,867.9 L558.4,868.3 L559.7,868.7 L560.9,869.1 L562.1,869.5 L563.4,869.8 L564.6,870.2 L565.9,870.6 L567.1,870.9 L568.3,871.3 L569.6,871.6 L570.8,872.0 L572.0,872.3 L573.3,872.6 L574.5,873.0 L575.7,873.3 L577.0,873.6 L578.2,873.9 L579.4,874.2 L580.7,874.5 L581.9,874.8 L583.1,875.0 L584.4,875.3 L585.6,875.6 L586.9,875.9 L588.1,876.1 L589.3,876.4 L590.6,876.6 L591.8,876.9 L593.0,877.1 L594.3,877.4 L595.5,877.6 L596.7,877.8 L598.0,878.1 L599.2,878.3 L600.4,878.5 L601.7,878.7 L602.9,878.9 L604.2,879.2 L605.4,879.4 L606.6,879.6 L607.9,879.8 L609.1,880.0 L610.3,880.2 L611.6,880.4 L612.8,880.5 L614.0,880.7 L615.3,880.9 L616.5,881.1 L617.7,881.3 L619.0,881.4 L620.2,881.6 L621.4,881.8 L622.7,881.9 L623.9,882.1 L625.2,882.3 L626.4,882.4 L627.6,882.6 L628.9,882.7 L630.1,882.9 L631.3,883.0 L632.6,883.2 L633.8,883.3 L635.0,883.5 L636.3,883.6 L637.5,883.8 L638.7,883.9 L640.0,884.0 L641.2,884.2 L642.5,884.3 L643.7,884.4 L644.9,884.5 L646.2,884.7 L647.4,884.8 L648.6,884.9 L649.9,885.0 L651.1,885.2 L652.3,885.3 L653.6,885.4 L654.8,885.5 L656.0,885.6 L657.3,885.7 L658.5,885.8 L659.8,886.0 L661.0,886.1 L662.2,886.2 L663.5,886.3 L664.7,886.4 L665.9,886.5 L667.2,886.6 L668.4,886.7 L669.6,886.8 L670.9,886.9 L672.1,887.0 L673.3,887.1 L674.6,887.2 L675.8,887.2 L677.0,887.3 L678.3,887.4 L679.5,887.5 L680.8,887.6 L682.0,887.7 L683.2,887.8 L684.5,887.9 L685.7,887.9 L686.9,888.0 L688.2,888.1 L689.4,888.2 L690.6,888.3 L691.9,888.3 L693.1,888.4 L694.3,888.5 L695.6,888.6 L696.8,888.7 L698.1,888.7 L699.3,888.8 L700.5,888.9 L701.8,888.9 L703.0,889.0 L704.2,889.1 L705.5,889.2 L706.7,889.2 L707.9,889.3 L709.2,889.4 L710.4,889.4 L711.6,889.5 L712.9,889.6 L714.1,889.6 L715.4,889.7 L716.6,889.7 L717.8,889.8 L719.1,889.9 L720.3,889.9 L721.5,890.0 L722.8,890.1 L724.0,890.1 L725.2,890.2 L726.5,890.2 L727.7,890.3 L728.9,890.3 L730.2,890.4 L731.4,890.5 L732.6,890.5 L733.9,890.6 L735.1,890.6 L736.4,890.7 L737.6,890.7 L738.8,890.8 L740.1,890.8 L741.3,890.9 L742.5,890.9 L743.8,891.0 L745.0,891.0 L746.2,891.1 L747.5,891.1 L748.7,891.2 L749.9,891.2 L751.2,891.3 L752.4,891.3 L753.7,891.4 L754.9,891.4 L756.1,891.5" fill="none" stroke="#000" stroke-width="4.4" stroke-linejoin="round" stroke-linecap="butt"/>
<path d="M213.3,777.9 L213.3,778.4 L213.4,779.4 L213.5,780.5 L213.6,781.7 L213.7,782.9 L213.8,784.2 L213.9,785.6 L214.0,787.0 L214.2,788.5 L214.3,790.0 L214.4,791.6 L214.6,793.2 L214.8,794.9 L214.9,796.6 L215.1,798.3 L215.3,800.1 L215.5,801.9 L215.6,803.7 L215.8,805.6 L216.1,807.4 L216.3,809.3 L216.5,811.2 L216.7,813.2 L217.0,815.1 L217.2,817.0 L217.4,818.9 L217.7,820.9 L218.0,822.8 L218.2,824.7 L218.5,826.6 L218.8,828.5 L219.1,830.4 L219.4,832.3 L219.7,834.2 L220.0,836.1 L220.3,837.9 L220.6,839.7 L221.0,841.5 L221.3,843.3 L221.7,845.1 L222.0,846.8 L222.4,848.6 L222.7,850.3 L223.1,851.9 L223.5,853.6 L223.9,855.2 L224.3,856.8 L224.7,858.4 L225.1,860.0 L225.5,861.5 L225.9,863.0 L226.4,864.4 L226.8,865.9 L227.3,867.3 L227.7,868.7 L228.2,870.0 L228.6,871.4 L229.1,872.7 L229.6,874.0 L230.1,875.2 L230.6,876.4 L231.1,877.6 L231.6,878.8 L232.1,879.9 L232.6,881.0 L233.1,882.1 L233.7,883.2 L234.2,884.2 L234.8,885.2 L235.3,886.2 L235.9,887.2 L236.5,888.1 L237.0,889.0 L237.6,889.9 L238.2,890.8 L238.8,891.6 L239.4,892.4 L240.0,893.2 L240.7,894.0 L241.3,894.7 L241.9,895.4 L242.6,896.1 L243.2,896.8 L243.9,897.5 L244.5,898.1 L245.2,898.7 L245.9,899.3 L246.6,899.8 L247.2,900.4 L247.9,900.9 L248.6,901.4 L249.4,901.9 L250.1,902.3 L250.8,902.8 L251.5,903.2 L252.3,903.6 L253.0,903.9 L253.8,904.3 L254.5,904.6 L255.3,904.9 L256.1,905.2 L256.9,905.5 L257.6,905.8 L258.4,906.0 L259.2,906.2 L260.0,906.4 L260.9,906.6 L261.7,906.7 L262.5,906.9 L263.1,906.9 L264.4,907.1 L265.6,907.2 L266.8,907.2 L268.1,907.2 L269.3,907.2 L270.6,907.1 L271.8,907.0 L273.0,906.8 L274.3,906.7 L275.5,906.4 L276.7,906.2 L278.0,905.9 L279.2,905.5 L280.4,905.2 L281.7,904.8 L282.9,904.3 L284.1,903.8 L285.4,903.3 L286.6,902.8 L287.9,902.2 L289.1,901.6 L290.3,900.9 L291.6,900.3 L292.8,899.5 L294.0,898.8 L295.3,898.0 L296.5,897.2 L297.7,896.4 L299.0,895.5 L300.2,894.6 L301.4,893.6 L302.7,892.6 L303.9,891.6 L305.1,890.6 L306.4,889.5 L307.6,888.4 L308.9,887.3 L310.1,886.1 L311.3,884.9 L312.6,883.7 L313.8,882.5 L315.0,881.2 L316.3,879.9 L317.5,878.6 L318.7,877.3 L320.0,875.9 L321.2,874.5 L322.4,873.1 L323.7,871.7 L324.9,870.3 L326.2,868.9 L327.4,867.4 L328.6,866.0 L329.9,864.5 L331.1,863.0 L332.3,861.6 L333.6,860.1 L334.8,858.6 L336.0,857.2 L337.3,855.7 L338.5,854.2 L339.7,852.8 L341.0,851.3 L342.2,849.8 L343.5,848.4 L344.7,846.9 L345.9,845.5 L347.2,844.0 L348.4,842.6 L349.6,841.1 L350.9,839.7 L352.1,838.2 L353.3,836.8 L354.6,835.3 L355.8,833.8 L357.0,832.2 L358.3,830.7 L359.5,829.1 L360.7,827.4 L362.0,825.8 L363.2,824.0 L364.5,822.3 L365.7,820.4 L366.9,818.5 L368.2,816.5 L369.4,814.5 L370.6,812.3 L371.9,810.1 L373.1,807.7 L374.3,805.3 L375.6,802.7 L376.8,800.0 L378.0,797.2 L379.3,794.2 L380.5,791.1 L381.8,787.8 L383.0,784.4 L384.2,780.8 L385.5,777.0 L386.7,773.0 L387.9,768.9 L389.2,764.5 L390.4,759.9 L391.6,755.1 L392.9,750.1 L394.1,744.9 L395.3,739.6 L396.6,734.1 L397.8,728.5 L399.1,722.9 L400.3,717.5 L401.5,712.2 L402.8,707.3 L404.0,702.9 L405.2,699.2 L406.5,696.2 L407.7,694.1 L408.9,692.9 L410.2,692.7 L411.4,693.2 L412.6,694.4 L413.9,696.3 L415.1,698.6 L416.3,701.3 L417.6,704.3 L418.8,707.5 L420.1,710.8 L421.3,714.3 L422.5,717.9 L423.8,721.5 L425.0,725.2 L426.2,729.0 L427.5,732.9 L428.7,736.8 L429.9,740.8 L431.2,744.9 L432.4,749.0 L433.6,753.2 L434.9,757.4 L436.1,761.7 L437.4,766.0 L438.6,770.3 L439.8,774.6 L441.1,778.9 L442.3,783.2 L443.5,787.5 L444.8,791.7 L446.0,795.9 L447.2,800.1 L448.5,804.2 L449.7,808.3 L450.9,812.3 L452.2,816.3 L453.4,820.1 L454.7,823.9 L455.9,827.6 L457.1,831.2 L458.4,834.8 L459.6,838.2 L460.8,841.6 L462.1,844.9 L463.3,848.1 L464.5,851.2 L465.8,854.2 L467.0,857.1 L468.2,860.0 L469.5,862.8 L470.7,865.5 L471.9,868.1 L473.2,870.6 L474.4,873.1 L475.7,875.4 L476.9,877.7 L478.1,880.0 L479.4,882.1 L480.6,884.2 L481.8,886.3 L483.1,888.3 L484.3,890.2 L485.5,892.0 L486.8,893.8 L488.0,895.5 L489.2,897.2 L490.5,898.9 L491.7,900.4 L493.0,902.0 L494.2,903.5 L495.4,904.9 L496.7,906.3 L497.9,907.6 L499.1,908.9 L500.4,910.2 L501.6,911.5 L502.8,912.6 L504.1,913.8 L505.3,914.9 L506.5,916.0 L507.8,917.1 L509.0,918.1 L510.3,919.1 L511.5,920.1 L512.7,921.0 L514.0,921.9 L515.2,922.8 L516.4,923.7 L517.7,924.5 L518.9,925.4 L520.1,926.2 L521.4,926.9 L522.6,927.7 L523.8,928.4 L525.1,929.1 L526.3,929.8 L527.5,930.5 L528.8,931.2 L530.0,931.8 L531.3,932.4 L532.5,933.0 L533.7,933.6 L535.0,934.2 L536.2,934.8 L537.4,935.3 L538.7,935.9 L539.9,936.4 L541.1,936.9 L542.4,937.4 L543.6,937.9 L544.8,938.4 L546.1,938.8 L547.3,939.3 L548.6,939.7 L549.8,940.2 L551.0,940.6 L552.3,941.0 L553.5,941.4 L554.7,941.8 L556.0,942.2 L557.2,942.6 L558.4,943.0 L559.7,943.4 L560.9,943.7 L562.1,944.1 L563.4,944.4 L564.6,944.8 L565.9,945.1 L567.1,945.4 L568.3,945.8 L569.6,946.1 L570.8,946.4 L572.0,946.7 L573.3,947.0 L574.5,947.3 L575.7,947.6 L577.0,947.9 L578.2,948.2 L579.4,948.5 L580.7,948.7 L581.9,949.0 L583.1,949.3 L584.4,949.6 L585.6,949.8 L586.9,950.1 L588.1,950.3 L589.3,950.6 L590.6,950.8 L591.8,951.1 L593.0,951.3 L594.3,951.5 L595.5,951.8 L596.7,952.0 L598.0,952.2 L599.2,952.5 L600.4,952.7 L601.7,952.9 L602.9,953.1 L604.2,953.3 L605.4,953.5 L606.6,953.7 L607.9,953.9 L609.1,954.1 L610.3,954.3 L611.6,954.5 L612.8,954.7 L614.0,954.9 L615.3,955.1 L616.5,955.3 L617.7,955.5 L619.0,955.7 L620.2,955.8 L621.4,956.0 L622.7,956.2 L623.9,956.3 L625.2,956.5 L626.4,956.7 L627.6,956.8 L628.9,957.0 L630.1,957.2 L631.3,957.3 L632.6,957.5 L633.8,957.6 L635.0,957.8 L636.3,957.9 L637.5,958.1 L638.7,958.2 L640.0,958.4 L641.2,958.5 L642.5,958.7 L643.7,958.8 L644.9,958.9 L646.2,959.1 L647.4,959.2 L648.6,959.3 L649.9,959.5 L651.1,959.6 L652.3,959.7 L653.6,959.8 L654.8,960.0 L656.0,960.1 L657.3,960.2 L658.5,960.3 L659.8,960.4 L661.0,960.5 L662.2,960.7 L663.5,960.8 L664.7,960.9 L665.9,961.0 L667.2,961.1 L668.4,961.2 L669.6,961.3 L670.9,961.4 L672.1,961.5 L673.3,961.6 L674.6,961.7 L675.8,961.8 L677.0,961.9 L678.3,962.0 L679.5,962.1 L680.8,962.2 L682.0,962.3 L683.2,962.4 L684.5,962.5 L685.7,962.6 L686.9,962.6 L688.2,962.7 L689.4,962.8 L690.6,962.9 L691.9,963.0 L693.1,963.1 L694.3,963.1 L695.6,963.2 L696.8,963.3 L698.1,963.4 L699.3,963.5 L700.5,963.5 L701.8,963.6 L703.0,963.7 L704.2,963.8 L705.5,963.8 L706.7,963.9 L707.9,964.0 L709.2,964.0 L710.4,964.1 L711.6,964.2 L712.9,964.3 L714.1,964.3 L715.4,964.4 L716.6,964.5 L717.8,964.5 L719.1,964.6 L720.3,964.6 L721.5,964.7 L722.8,964.8 L724.0,964.8 L725.2,964.9 L726.5,965.0 L727.7,965.0 L728.9,965.1 L730.2,965.1 L731.4,965.2 L732.6,965.2 L733.9,965.3 L735.1,965.4 L736.4,965.4 L737.6,965.5 L738.8,965.5 L740.1,965.6 L741.3,965.6 L742.5,965.7 L743.8,965.7 L745.0,965.8 L746.2,965.8 L747.5,965.9 L748.7,965.9 L749.9,966.0 L751.2,966.0 L752.4,966.1 L753.7,966.1 L754.9,966.2 L756.1,966.2" fill="none" stroke="#000" stroke-width="4.4" stroke-linejoin="round" stroke-linecap="butt"/>
<path d="M212.7,916.0 L212.7,915.8 L212.7,916.1 L212.8,916.5 L212.8,916.9 L212.9,917.4 L213.0,918.0 L213.0,918.6 L213.1,919.3 L213.2,920.0 L213.3,920.7 L213.4,921.5 L213.5,922.4 L213.6,923.3 L213.7,924.2 L213.9,925.1 L214.0,926.1 L214.1,927.2 L214.3,928.2 L214.5,929.3 L214.6,930.4 L214.8,931.5 L215.0,932.7 L215.2,933.9 L215.3,935.1 L215.5,936.3 L215.8,937.5 L216.0,938.7 L216.2,939.9 L216.4,941.2 L216.7,942.4 L216.9,943.6 L217.1,944.9 L217.4,946.1 L217.7,947.4 L217.9,948.6 L218.2,949.8 L218.5,951.1 L218.8,952.3 L219.1,953.5 L219.4,954.7 L219.7,955.9 L220.0,957.1 L220.3,958.2 L220.7,959.4 L221.0,960.5 L221.4,961.7 L221.7,962.8 L222.1,963.9 L222.4,964.9 L222.8,966.0 L223.2,967.0 L223.6,968.1 L224.0,969.1 L224.4,970.1 L224.8,971.0 L225.2,972.0 L225.6,972.9 L226.1,973.9 L226.5,974.8 L227.0,975.6 L227.4,976.5 L227.9,977.3 L228.3,978.2 L228.8,979.0 L229.3,979.8 L229.8,980.5 L230.3,981.3 L230.8,982.0 L231.3,982.7 L231.8,983.4 L232.3,984.1 L232.8,984.7 L233.4,985.4 L233.9,986.0 L234.5,986.6 L235.0,987.2 L235.6,987.7 L236.2,988.3 L236.7,988.8 L237.3,989.3 L237.9,989.8 L238.5,990.3 L239.1,990.8 L239.7,991.2 L240.4,991.6 L241.0,992.0 L241.6,992.4 L242.3,992.8 L242.9,993.2 L243.6,993.5 L244.2,993.8 L244.9,994.2 L245.6,994.5 L246.3,994.7 L246.9,995.0 L247.6,995.2 L248.3,995.5 L249.1,995.7 L249.8,995.9 L250.5,996.1 L251.2,996.2 L252.0,996.4 L252.7,996.5 L253.5,996.7 L254.2,996.8 L255.0,996.9 L255.8,996.9 L256.6,997.0 L257.3,997.1 L258.1,997.1 L258.9,997.1 L259.7,997.1 L260.6,997.1 L261.4,997.0 L262.2,997.0 L262.8,996.9 L264.1,996.8 L265.3,996.7 L266.5,996.5 L267.8,996.3 L269.0,996.0 L270.3,995.7 L271.5,995.4 L272.7,995.1 L274.0,994.7 L275.2,994.3 L276.4,993.9 L277.7,993.4 L278.9,992.9 L280.1,992.4 L281.4,991.9 L282.6,991.3 L283.9,990.7 L285.1,990.1 L286.3,989.4 L287.6,988.8 L288.8,988.0 L290.0,987.3 L291.3,986.5 L292.5,985.8 L293.7,984.9 L295.0,984.1 L296.2,983.2 L297.5,982.4 L298.7,981.4 L299.9,980.5 L301.2,979.5 L302.4,978.6 L303.6,977.6 L304.9,976.5 L306.1,975.5 L307.3,974.4 L308.6,973.3 L309.8,972.2 L311.1,971.1 L312.3,970.0 L313.5,968.8 L314.8,967.7 L316.0,966.5 L317.2,965.3 L318.5,964.1 L319.7,962.9 L320.9,961.7 L322.2,960.5 L323.4,959.2 L324.7,958.0 L325.9,956.7 L327.1,955.5 L328.4,954.2 L329.6,952.9 L330.8,951.6 L332.1,950.3 L333.3,948.9 L334.5,947.6 L335.8,946.2 L337.0,944.8 L338.3,943.3 L339.5,941.9 L340.7,940.4 L342.0,938.8 L343.2,937.2 L344.4,935.6 L345.7,933.9 L346.9,932.2 L348.1,930.4 L349.4,928.6 L350.6,926.6 L351.9,924.6 L353.1,922.6 L354.3,920.4 L355.6,918.1 L356.8,915.8 L358.0,913.4 L359.3,910.8 L360.5,908.2 L361.7,905.4 L363.0,902.6 L364.2,899.6 L365.5,896.5 L366.7,893.2 L367.9,889.9 L369.2,886.4 L370.4,882.7 L371.6,878.9 L372.9,875.0 L374.1,871.0 L375.3,866.8 L376.6,862.4 L377.8,857.9 L379.1,853.3 L380.3,848.6 L381.5,843.7 L382.8,838.7 L384.0,833.5 L385.2,828.3 L386.5,822.9 L387.7,817.5 L388.9,812.0 L390.2,806.4 L391.4,800.7 L392.7,795.0 L393.9,789.3 L395.1,783.6 L396.4,777.9 L397.6,772.3 L398.8,766.8 L400.1,761.4 L401.3,756.2 L402.5,751.2 L403.8,746.6 L405.0,742.2 L406.3,738.3 L407.5,734.9 L408.7,732.1 L410.0,729.9 L411.2,728.5 L412.4,727.9 L413.7,728.2 L414.9,729.3 L416.1,731.2 L417.4,733.9 L418.6,737.3 L419.9,741.3 L421.1,745.8 L422.3,750.7 L423.6,756.0 L424.8,761.6 L426.0,767.4 L427.3,773.3 L428.5,779.3 L429.7,785.4 L431.0,791.5 L432.2,797.6 L433.5,803.6 L434.7,809.6 L435.9,815.6 L437.2,821.4 L438.4,827.2 L439.6,832.8 L440.9,838.3 L442.1,843.7 L443.3,849.0 L444.6,854.1 L445.8,859.2 L447.0,864.0 L448.3,868.8 L449.5,873.3 L450.8,877.8 L452.0,882.1 L453.2,886.3 L454.5,890.3 L455.7,894.3 L456.9,898.0 L458.2,901.7 L459.4,905.2 L460.6,908.7 L461.9,912.0 L463.1,915.1 L464.4,918.2 L465.6,921.2 L466.8,924.1 L468.1,926.8 L469.3,929.5 L470.5,932.1 L471.8,934.6 L473.0,937.0 L474.2,939.3 L475.5,941.6 L476.7,943.8 L478.0,945.9 L479.2,947.9 L480.4,949.9 L481.7,951.8 L482.9,953.6 L484.1,955.4 L485.4,957.2 L486.6,958.9 L487.8,960.5 L489.1,962.1 L490.3,963.7 L491.6,965.2 L492.8,966.6 L494.0,968.1 L495.3,969.4 L496.5,970.8 L497.7,972.1 L499.0,973.4 L500.2,974.6 L501.4,975.9 L502.7,977.0 L503.9,978.2 L505.2,979.3 L506.4,980.5 L507.6,981.5 L508.9,982.6 L510.1,983.6 L511.3,984.6 L512.6,985.6 L513.8,986.6 L515.0,987.6 L516.3,988.5 L517.5,989.4 L518.8,990.3 L520.0,991.2 L521.2,992.1 L522.5,992.9 L523.7,993.7 L524.9,994.6 L526.2,995.4 L527.4,996.1 L528.6,996.9 L529.9,997.7 L531.1,998.4 L532.4,999.1 L533.6,999.9 L534.8,1000.6 L536.1,1001.3 L537.3,1001.9 L538.5,1002.6 L539.8,1003.3 L541.0,1003.9 L542.2,1004.6 L543.5,1005.2 L544.7,1005.8 L546.0,1006.4 L547.2,1007.0 L548.4,1007.6 L549.7,1008.2 L550.9,1008.7 L552.1,1009.3 L553.4,1009.8 L554.6,1010.4 L555.8,1010.9 L557.1,1011.4 L558.3,1011.9 L559.6,1012.4 L560.8,1012.9 L562.0,1013.4 L563.3,1013.9 L564.5,1014.3 L565.7,1014.8 L567.0,1015.2 L568.2,1015.7 L569.4,1016.1 L570.7,1016.6 L571.9,1017.0 L573.2,1017.4 L574.4,1017.8 L575.6,1018.2 L576.9,1018.6 L578.1,1019.0 L579.3,1019.4 L580.6,1019.7 L581.8,1020.1 L583.0,1020.5 L584.3,1020.8 L585.5,1021.2 L586.8,1021.5 L588.0,1021.9 L589.2,1022.2 L590.5,1022.5 L591.7,1022.9 L592.9,1023.2 L594.2,1023.5 L595.4,1023.8 L596.6,1024.1 L597.9,1024.4 L599.1,1024.7 L600.4,1025.0 L601.6,1025.3 L602.8,1025.5 L604.1,1025.8 L605.3,1026.1 L606.5,1026.3 L607.8,1026.6 L609.0,1026.9 L610.2,1027.1 L611.5,1027.4 L612.7,1027.6 L614.0,1027.9 L615.2,1028.1 L616.4,1028.3 L617.7,1028.6 L618.9,1028.8 L620.1,1029.0 L621.4,1029.2 L622.6,1029.4 L623.8,1029.7 L625.1,1029.9 L626.3,1030.1 L627.5,1030.3 L628.8,1030.5 L630.0,1030.7 L631.3,1030.9 L632.5,1031.1 L633.7,1031.2 L635.0,1031.4 L636.2,1031.6 L637.4,1031.8 L638.7,1032.0 L639.9,1032.1 L641.1,1032.3 L642.4,1032.5 L643.6,1032.6 L644.9,1032.8 L646.1,1033.0 L647.3,1033.1 L648.6,1033.3 L649.8,1033.4 L651.0,1033.6 L652.3,1033.7 L653.5,1033.9 L654.7,1034.0 L656.0,1034.2 L657.2,1034.3 L658.5,1034.5 L659.7,1034.6 L660.9,1034.7 L662.2,1034.9 L663.4,1035.0 L664.6,1035.1 L665.9,1035.3 L667.1,1035.4 L668.3,1035.5 L669.6,1035.6 L670.8,1035.8 L672.1,1035.9 L673.3,1036.0 L674.5,1036.1 L675.8,1036.2 L677.0,1036.4 L678.2,1036.5 L679.5,1036.6 L680.7,1036.7 L681.9,1036.8 L683.2,1036.9 L684.4,1037.0 L685.7,1037.1 L686.9,1037.2 L688.1,1037.3 L689.4,1037.4 L690.6,1037.5 L691.8,1037.6 L693.1,1037.7 L694.3,1037.8 L695.5,1037.9 L696.8,1038.0 L698.0,1038.1 L699.3,1038.2 L700.5,1038.3 L701.7,1038.4 L703.0,1038.4 L704.2,1038.5 L705.4,1038.6 L706.7,1038.7 L707.9,1038.8 L709.1,1038.9 L710.4,1038.9 L711.6,1039.0 L712.9,1039.1 L714.1,1039.2 L715.3,1039.3 L716.6,1039.3 L717.8,1039.4 L719.0,1039.5 L720.3,1039.6 L721.5,1039.6 L722.7,1039.7 L724.0,1039.8 L725.2,1039.8 L726.5,1039.9 L727.7,1040.0 L728.9,1040.0 L730.2,1040.1 L731.4,1040.2 L732.6,1040.2 L733.9,1040.3 L735.1,1040.4 L736.3,1040.4 L737.6,1040.5 L738.8,1040.6 L740.1,1040.6 L741.3,1040.7 L742.5,1040.7 L743.8,1040.8 L745.0,1040.9 L746.2,1040.9 L747.5,1041.0 L748.7,1041.0 L749.9,1041.1 L751.2,1041.1 L752.4,1041.2 L753.7,1041.3 L754.9,1041.3 L756.1,1041.4" fill="none" stroke="#000" stroke-width="4.4" stroke-linejoin="round" stroke-linecap="butt"/>
<path d="M212.3,1054.1 L212.3,1054.1 L212.3,1054.2 L212.3,1054.2 L212.4,1054.3 L212.4,1054.5 L212.4,1054.7 L212.5,1054.9 L212.5,1055.1 L212.6,1055.3 L212.7,1055.6 L212.7,1055.9 L212.8,1056.3 L212.9,1056.6 L213.0,1057.0 L213.1,1057.4 L213.2,1057.9 L213.3,1058.3 L213.4,1058.8 L213.6,1059.3 L213.7,1059.8 L213.8,1060.3 L214.0,1060.8 L214.2,1061.4 L214.3,1061.9 L214.5,1062.5 L214.7,1063.1 L214.9,1063.7 L215.0,1064.3 L215.2,1064.9 L215.5,1065.5 L215.7,1066.1 L215.9,1066.7 L216.1,1067.3 L216.4,1067.9 L216.6,1068.5 L216.8,1069.1 L217.1,1069.7 L217.4,1070.3 L217.6,1071.0 L217.9,1071.5 L218.2,1072.1 L218.5,1072.7 L218.8,1073.3 L219.1,1073.9 L219.4,1074.5 L219.7,1075.0 L220.0,1075.6 L220.4,1076.1 L220.7,1076.6 L221.1,1077.2 L221.4,1077.7 L221.8,1078.2 L222.1,1078.7 L222.5,1079.2 L222.9,1079.7 L223.3,1080.1 L223.7,1080.6 L224.1,1081.0 L224.5,1081.5 L224.9,1081.9 L225.3,1082.3 L225.8,1082.7 L226.2,1083.1 L226.7,1083.4 L227.1,1083.8 L227.6,1084.2 L228.0,1084.5 L228.5,1084.8 L229.0,1085.2 L229.5,1085.5 L230.0,1085.8 L230.5,1086.0 L231.0,1086.3 L231.5,1086.6 L232.0,1086.8 L232.5,1087.1 L233.1,1087.3 L233.6,1087.5 L234.2,1087.7 L234.7,1087.9 L235.3,1088.1 L235.9,1088.3 L236.4,1088.4 L237.0,1088.6 L237.6,1088.7 L238.2,1088.9 L238.8,1089.0 L239.4,1089.1 L240.1,1089.2 L240.7,1089.3 L241.3,1089.4 L242.0,1089.4 L242.6,1089.5 L243.3,1089.5 L243.9,1089.6 L244.6,1089.6 L245.3,1089.6 L246.0,1089.6 L246.6,1089.6 L247.3,1089.6 L248.0,1089.5 L248.8,1089.5 L249.5,1089.5 L250.2,1089.4 L250.9,1089.3 L251.7,1089.2 L252.4,1089.1 L253.2,1089.0 L253.9,1088.9 L254.7,1088.8 L255.5,1088.7 L256.3,1088.5 L257.0,1088.4 L257.8,1088.2 L258.6,1088.0 L259.4,1087.8 L260.3,1087.6 L261.1,1087.4 L261.9,1087.2 L262.5,1087.0 L263.8,1086.6 L265.0,1086.2 L266.3,1085.8 L267.5,1085.4 L268.7,1084.9 L270.0,1084.4 L271.2,1083.9 L272.4,1083.4 L273.7,1082.8 L274.9,1082.2 L276.1,1081.6 L277.4,1081.0 L278.6,1080.4 L279.9,1079.7 L281.1,1079.0 L282.3,1078.3 L283.6,1077.5 L284.8,1076.8 L286.0,1076.0 L287.3,1075.2 L288.5,1074.3 L289.8,1073.5 L291.0,1072.6 L292.2,1071.7 L293.5,1070.7 L294.7,1069.7 L295.9,1068.8 L297.2,1067.7 L298.4,1066.7 L299.7,1065.6 L300.9,1064.5 L302.1,1063.4 L303.4,1062.3 L304.6,1061.1 L305.8,1059.9 L307.1,1058.7 L308.3,1057.5 L309.5,1056.2 L310.8,1054.9 L312.0,1053.6 L313.3,1052.3 L314.5,1051.0 L315.7,1049.6 L317.0,1048.3 L318.2,1046.9 L319.4,1045.5 L320.7,1044.1 L321.9,1042.6 L323.2,1041.2 L324.4,1039.7 L325.6,1038.2 L326.9,1036.7 L328.1,1035.1 L329.3,1033.6 L330.6,1032.0 L331.8,1030.3 L333.1,1028.7 L334.3,1027.0 L335.5,1025.2 L336.8,1023.5 L338.0,1021.6 L339.2,1019.7 L340.5,1017.8 L341.7,1015.8 L342.9,1013.7 L344.2,1011.6 L345.4,1009.4 L346.7,1007.1 L347.9,1004.7 L349.1,1002.2 L350.4,999.7 L351.6,997.0 L352.8,994.2 L354.1,991.4 L355.3,988.4 L356.6,985.3 L357.8,982.1 L359.0,978.7 L360.3,975.2 L361.5,971.6 L362.7,967.8 L364.0,963.9 L365.2,959.9 L366.5,955.7 L367.7,951.4 L368.9,946.9 L370.2,942.2 L371.4,937.4 L372.6,932.4 L373.9,927.3 L375.1,922.0 L376.3,916.6 L377.6,911.0 L378.8,905.2 L380.1,899.3 L381.3,893.3 L382.5,887.1 L383.8,880.8 L385.0,874.4 L386.2,867.9 L387.5,861.2 L388.7,854.5 L390.0,847.7 L391.2,840.8 L392.4,834.0 L393.7,827.0 L394.9,820.2 L396.1,813.3 L397.4,806.6 L398.6,800.0 L399.9,793.6 L401.1,787.5 L402.3,781.8 L403.6,776.7 L404.8,772.1 L406.0,768.4 L407.3,765.6 L408.5,763.9 L409.7,763.3 L411.0,763.9 L412.2,765.6 L413.5,768.5 L414.7,772.4 L415.9,777.2 L417.2,782.7 L418.4,788.8 L419.6,795.4 L420.9,802.3 L422.1,809.4 L423.4,816.6 L424.6,823.9 L425.8,831.2 L427.1,838.5 L428.3,845.7 L429.5,852.7 L430.8,859.7 L432.0,866.5 L433.3,873.2 L434.5,879.7 L435.7,886.1 L437.0,892.3 L438.2,898.3 L439.4,904.2 L440.7,909.9 L441.9,915.4 L443.2,920.8 L444.4,926.0 L445.6,931.1 L446.9,935.9 L448.1,940.7 L449.3,945.2 L450.6,949.7 L451.8,953.9 L453.0,958.1 L454.3,962.1 L455.5,965.9 L456.8,969.6 L458.0,973.2 L459.2,976.7 L460.5,980.1 L461.7,983.3 L462.9,986.5 L464.2,989.5 L465.4,992.4 L466.7,995.3 L467.9,998.0 L469.1,1000.7 L470.4,1003.3 L471.6,1005.7 L472.8,1008.1 L474.1,1010.5 L475.3,1012.7 L476.6,1014.9 L477.8,1017.1 L479.0,1019.1 L480.3,1021.1 L481.5,1023.0 L482.7,1024.9 L484.0,1026.8 L485.2,1028.5 L486.4,1030.3 L487.7,1031.9 L488.9,1033.6 L490.2,1035.2 L491.4,1036.7 L492.6,1038.2 L493.9,1039.7 L495.1,1041.1 L496.3,1042.5 L497.6,1043.9 L498.8,1045.2 L500.1,1046.5 L501.3,1047.8 L502.5,1049.0 L503.8,1050.2 L505.0,1051.4 L506.2,1052.6 L507.5,1053.7 L508.7,1054.8 L510.0,1055.9 L511.2,1057.0 L512.4,1058.0 L513.7,1059.0 L514.9,1060.0 L516.1,1061.0 L517.4,1061.9 L518.6,1062.9 L519.8,1063.8 L521.1,1064.7 L522.3,1065.5 L523.6,1066.4 L524.8,1067.3 L526.0,1068.1 L527.3,1068.9 L528.5,1069.7 L529.7,1070.5 L531.0,1071.2 L532.2,1072.0 L533.5,1072.7 L534.7,1073.5 L535.9,1074.2 L537.2,1074.9 L538.4,1075.6 L539.6,1076.3 L540.9,1076.9 L542.1,1077.6 L543.4,1078.2 L544.6,1078.8 L545.8,1079.5 L547.1,1080.1 L548.3,1080.7 L549.5,1081.3 L550.8,1081.8 L552.0,1082.4 L553.2,1083.0 L554.5,1083.5 L555.7,1084.1 L557.0,1084.6 L558.2,1085.1 L559.4,1085.6 L560.7,1086.1 L561.9,1086.6 L563.1,1087.1 L564.4,1087.6 L565.6,1088.1 L566.9,1088.5 L568.1,1089.0 L569.3,1089.4 L570.6,1089.9 L571.8,1090.3 L573.0,1090.7 L574.3,1091.2 L575.5,1091.6 L576.8,1092.0 L578.0,1092.4 L579.2,1092.8 L580.5,1093.2 L581.7,1093.5 L582.9,1093.9 L584.2,1094.3 L585.4,1094.7 L586.6,1095.0 L587.9,1095.4 L589.1,1095.7 L590.4,1096.1 L591.6,1096.4 L592.8,1096.7 L594.1,1097.0 L595.3,1097.4 L596.5,1097.7 L597.8,1098.0 L599.0,1098.3 L600.3,1098.6 L601.5,1098.9 L602.7,1099.2 L604.0,1099.5 L605.2,1099.8 L606.4,1100.0 L607.7,1100.3 L608.9,1100.6 L610.2,1100.9 L611.4,1101.1 L612.6,1101.4 L613.9,1101.6 L615.1,1101.9 L616.3,1102.1 L617.6,1102.4 L618.8,1102.6 L620.0,1102.9 L621.3,1103.1 L622.5,1103.3 L623.8,1103.5 L625.0,1103.8 L626.2,1104.0 L627.5,1104.2 L628.7,1104.4 L629.9,1104.6 L631.2,1104.8 L632.4,1105.0 L633.7,1105.2 L634.9,1105.4 L636.1,1105.6 L637.4,1105.8 L638.6,1106.0 L639.8,1106.2 L641.1,1106.4 L642.3,1106.6 L643.6,1106.8 L644.8,1106.9 L646.0,1107.1 L647.3,1107.3 L648.5,1107.5 L649.7,1107.6 L651.0,1107.8 L652.2,1108.0 L653.4,1108.1 L654.7,1108.3 L655.9,1108.4 L657.2,1108.6 L658.4,1108.7 L659.6,1108.9 L660.9,1109.0 L662.1,1109.2 L663.3,1109.3 L664.6,1109.5 L665.8,1109.6 L667.1,1109.8 L668.3,1109.9 L669.5,1110.0 L670.8,1110.2 L672.0,1110.3 L673.2,1110.4 L674.5,1110.6 L675.7,1110.7 L677.0,1110.8 L678.2,1110.9 L679.4,1111.1 L680.7,1111.2 L681.9,1111.3 L683.1,1111.4 L684.4,1111.5 L685.6,1111.6 L686.8,1111.8 L688.1,1111.9 L689.3,1112.0 L690.6,1112.1 L691.8,1112.2 L693.0,1112.3 L694.3,1112.4 L695.5,1112.5 L696.7,1112.6 L698.0,1112.7 L699.2,1112.8 L700.5,1112.9 L701.7,1113.0 L702.9,1113.1 L704.2,1113.2 L705.4,1113.3 L706.6,1113.4 L707.9,1113.5 L709.1,1113.6 L710.4,1113.7 L711.6,1113.8 L712.8,1113.8 L714.1,1113.9 L715.3,1114.0 L716.5,1114.1 L717.8,1114.2 L719.0,1114.3 L720.3,1114.4 L721.5,1114.4 L722.7,1114.5 L724.0,1114.6 L725.2,1114.7 L726.4,1114.7 L727.7,1114.8 L728.9,1114.9 L730.1,1115.0 L731.4,1115.0 L732.6,1115.1 L733.9,1115.2 L735.1,1115.3 L736.3,1115.3 L737.6,1115.4 L738.8,1115.5 L740.0,1115.5 L741.3,1115.6 L742.5,1115.7 L743.8,1115.7 L745.0,1115.8 L746.2,1115.9 L747.5,1115.9 L748.7,1116.0 L749.9,1116.1 L751.2,1116.1 L752.4,1116.2 L753.7,1116.3 L754.9,1116.3 L756.1,1116.4" fill="none" stroke="#000" stroke-width="4.4" stroke-linejoin="round" stroke-linecap="butt"/>
<path d="M211.6,1192.8 L211.6,1192.8 L211.6,1192.8 L211.6,1192.8 L211.7,1192.8 L211.7,1192.8 L211.7,1192.8 L211.8,1192.8 L211.8,1192.7 L211.9,1192.7 L212.0,1192.7 L212.0,1192.7 L212.1,1192.7 L212.2,1192.7 L212.3,1192.7 L212.4,1192.7 L212.5,1192.6 L212.6,1192.6 L212.7,1192.6 L212.9,1192.6 L213.0,1192.6 L213.1,1192.5 L213.3,1192.5 L213.5,1192.5 L213.6,1192.5 L213.8,1192.4 L214.0,1192.4 L214.2,1192.4 L214.3,1192.3 L214.5,1192.3 L214.8,1192.3 L215.0,1192.2 L215.2,1192.2 L215.4,1192.1 L215.7,1192.1 L215.9,1192.0 L216.1,1192.0 L216.4,1191.9 L216.7,1191.9 L216.9,1191.8 L217.2,1191.7 L217.5,1191.7 L217.8,1191.6 L218.1,1191.5 L218.4,1191.5 L218.7,1191.4 L219.0,1191.3 L219.3,1191.2 L219.7,1191.2 L220.0,1191.1 L220.4,1191.0 L220.7,1190.9 L221.1,1190.8 L221.4,1190.7 L221.8,1190.6 L222.2,1190.5 L222.6,1190.4 L223.0,1190.3 L223.4,1190.2 L223.8,1190.1 L224.2,1190.0 L224.6,1189.9 L225.1,1189.8 L225.5,1189.6 L226.0,1189.5 L226.4,1189.4 L226.9,1189.3 L227.3,1189.1 L227.8,1189.0 L228.3,1188.8 L228.8,1188.7 L229.3,1188.6 L229.8,1188.4 L230.3,1188.3 L230.8,1188.1 L231.3,1188.0 L231.8,1187.8 L232.4,1187.6 L232.9,1187.5 L233.5,1187.3 L234.0,1187.1 L234.6,1186.9 L235.2,1186.8 L235.7,1186.6 L236.3,1186.4 L236.9,1186.2 L237.5,1186.0 L238.1,1185.8 L238.7,1185.6 L239.4,1185.4 L240.0,1185.2 L240.6,1185.0 L241.3,1184.8 L241.9,1184.6 L242.6,1184.3 L243.2,1184.1 L243.9,1183.9 L244.6,1183.6 L245.3,1183.4 L245.9,1183.2 L246.6,1182.9 L247.3,1182.7 L248.1,1182.4 L248.8,1182.1 L249.5,1181.9 L250.2,1181.6 L251.0,1181.3 L251.7,1181.0 L252.5,1180.8 L253.2,1180.5 L254.0,1180.2 L254.8,1179.9 L255.6,1179.6 L256.3,1179.3 L257.1,1178.9 L257.9,1178.6 L258.7,1178.3 L259.6,1177.9 L260.4,1177.6 L261.2,1177.3 L261.8,1177.0 L263.1,1176.5 L264.3,1175.9 L265.6,1175.4 L266.8,1174.8 L268.0,1174.3 L269.3,1173.7 L270.5,1173.1 L271.8,1172.5 L273.0,1171.9 L274.2,1171.3 L275.5,1170.7 L276.7,1170.0 L277.9,1169.4 L279.2,1168.7 L280.4,1168.1 L281.7,1167.4 L282.9,1166.7 L284.1,1166.0 L285.4,1165.2 L286.6,1164.5 L287.9,1163.7 L289.1,1163.0 L290.3,1162.2 L291.6,1161.4 L292.8,1160.6 L294.0,1159.7 L295.3,1158.9 L296.5,1158.0 L297.8,1157.1 L299.0,1156.2 L300.2,1155.2 L301.5,1154.3 L302.7,1153.3 L304.0,1152.3 L305.2,1151.2 L306.4,1150.2 L307.7,1149.1 L308.9,1148.0 L310.2,1146.8 L311.4,1145.6 L312.6,1144.4 L313.9,1143.2 L315.1,1141.9 L316.3,1140.6 L317.6,1139.3 L318.8,1137.9 L320.1,1136.4 L321.3,1135.0 L322.5,1133.5 L323.8,1131.9 L325.0,1130.3 L326.3,1128.7 L327.5,1127.0 L328.7,1125.2 L330.0,1123.4 L331.2,1121.5 L332.5,1119.6 L333.7,1117.6 L334.9,1115.5 L336.2,1113.4 L337.4,1111.2 L338.6,1108.9 L339.9,1106.6 L341.1,1104.2 L342.4,1101.6 L343.6,1099.0 L344.8,1096.3 L346.1,1093.5 L347.3,1090.6 L348.6,1087.6 L349.8,1084.5 L351.0,1081.3 L352.3,1077.9 L353.5,1074.5 L354.8,1070.9 L356.0,1067.1 L357.2,1063.2 L358.5,1059.2 L359.7,1055.0 L360.9,1050.7 L362.2,1046.2 L363.4,1041.5 L364.7,1036.6 L365.9,1031.6 L367.1,1026.4 L368.4,1021.0 L369.6,1015.3 L370.9,1009.5 L372.1,1003.4 L373.3,997.2 L374.6,990.7 L375.8,984.0 L377.0,977.0 L378.3,969.9 L379.5,962.5 L380.8,954.9 L382.0,947.0 L383.2,939.0 L384.5,930.7 L385.7,922.3 L387.0,913.7 L388.2,904.9 L389.4,896.1 L390.7,887.1 L391.9,878.2 L393.2,869.3 L394.4,860.4 L395.6,851.8 L396.9,843.4 L398.1,835.4 L399.3,827.9 L400.6,821.0 L401.8,814.8 L403.1,809.5 L404.3,805.1 L405.5,801.8 L406.8,799.6 L408.0,798.6 L409.3,798.8 L410.5,800.2 L411.7,802.7 L413.0,806.2 L414.2,810.8 L415.5,816.2 L416.7,822.3 L417.9,829.1 L419.2,836.4 L420.4,844.0 L421.6,852.1 L422.9,860.3 L424.1,868.6 L425.4,877.1 L426.6,885.5 L427.8,894.0 L429.1,902.3 L430.3,910.6 L431.6,918.7 L432.8,926.7 L434.0,934.5 L435.3,942.1 L436.5,949.6 L437.8,956.8 L439.0,963.8 L440.2,970.6 L441.5,977.2 L442.7,983.6 L443.9,989.8 L445.2,995.8 L446.4,1001.6 L447.7,1007.2 L448.9,1012.5 L450.1,1017.7 L451.4,1022.7 L452.6,1027.5 L453.9,1032.2 L455.1,1036.7 L456.3,1041.0 L457.6,1045.1 L458.8,1049.1 L460.0,1053.0 L461.3,1056.7 L462.5,1060.2 L463.8,1063.7 L465.0,1067.0 L466.2,1070.2 L467.5,1073.2 L468.7,1076.2 L470.0,1079.0 L471.2,1081.8 L472.4,1084.5 L473.7,1087.0 L474.9,1089.5 L476.2,1091.9 L477.4,1094.2 L478.6,1096.4 L479.9,1098.5 L481.1,1100.6 L482.3,1102.6 L483.6,1104.6 L484.8,1106.4 L486.1,1108.3 L487.3,1110.0 L488.5,1111.7 L489.8,1113.4 L491.0,1115.0 L492.3,1116.5 L493.5,1118.0 L494.7,1119.5 L496.0,1120.9 L497.2,1122.3 L498.5,1123.6 L499.7,1124.9 L500.9,1126.1 L502.2,1127.4 L503.4,1128.6 L504.6,1129.7 L505.9,1130.8 L507.1,1131.9 L508.4,1133.0 L509.6,1134.0 L510.8,1135.1 L512.1,1136.0 L513.3,1137.0 L514.6,1138.0 L515.8,1138.9 L517.0,1139.8 L518.3,1140.6 L519.5,1141.5 L520.8,1142.3 L522.0,1143.1 L523.2,1143.9 L524.5,1144.7 L525.7,1145.5 L526.9,1146.2 L528.2,1146.9 L529.4,1147.6 L530.7,1148.3 L531.9,1149.0 L533.1,1149.7 L534.4,1150.4 L535.6,1151.0 L536.9,1151.6 L538.1,1152.2 L539.3,1152.8 L540.6,1153.4 L541.8,1154.0 L543.0,1154.6 L544.3,1155.1 L545.5,1155.7 L546.8,1156.2 L548.0,1156.8 L549.2,1157.3 L550.5,1157.8 L551.7,1158.3 L553.0,1158.8 L554.2,1159.3 L555.4,1159.7 L556.7,1160.2 L557.9,1160.7 L559.2,1161.1 L560.4,1161.6 L561.6,1162.0 L562.9,1162.4 L564.1,1162.9 L565.3,1163.3 L566.6,1163.7 L567.8,1164.1 L569.1,1164.5 L570.3,1164.9 L571.5,1165.3 L572.8,1165.6 L574.0,1166.0 L575.3,1166.4 L576.5,1166.7 L577.7,1167.1 L579.0,1167.5 L580.2,1167.8 L581.5,1168.1 L582.7,1168.5 L583.9,1168.8 L585.2,1169.1 L586.4,1169.5 L587.6,1169.8 L588.9,1170.1 L590.1,1170.4 L591.4,1170.7 L592.6,1171.0 L593.8,1171.3 L595.1,1171.6 L596.3,1171.9 L597.6,1172.1 L598.8,1172.4 L600.0,1172.7 L601.3,1173.0 L602.5,1173.2 L603.8,1173.5 L605.0,1173.8 L606.2,1174.0 L607.5,1174.3 L608.7,1174.5 L609.9,1174.8 L611.2,1175.0 L612.4,1175.3 L613.7,1175.5 L614.9,1175.7 L616.1,1176.0 L617.4,1176.2 L618.6,1176.4 L619.9,1176.6 L621.1,1176.9 L622.3,1177.1 L623.6,1177.3 L624.8,1177.5 L626.1,1177.7 L627.3,1177.9 L628.5,1178.1 L629.8,1178.3 L631.0,1178.5 L632.2,1178.7 L633.5,1178.9 L634.7,1179.1 L636.0,1179.3 L637.2,1179.5 L638.4,1179.7 L639.7,1179.8 L640.9,1180.0 L642.2,1180.2 L643.4,1180.4 L644.6,1180.5 L645.9,1180.7 L647.1,1180.9 L648.3,1181.1 L649.6,1181.2 L650.8,1181.4 L652.1,1181.5 L653.3,1181.7 L654.5,1181.9 L655.8,1182.0 L657.0,1182.2 L658.3,1182.3 L659.5,1182.5 L660.7,1182.6 L662.0,1182.8 L663.2,1182.9 L664.5,1183.1 L665.7,1183.2 L666.9,1183.3 L668.2,1183.5 L669.4,1183.6 L670.6,1183.8 L671.9,1183.9 L673.1,1184.0 L674.4,1184.2 L675.6,1184.3 L676.8,1184.4 L678.1,1184.5 L679.3,1184.7 L680.6,1184.8 L681.8,1184.9 L683.0,1185.0 L684.3,1185.1 L685.5,1185.3 L686.8,1185.4 L688.0,1185.5 L689.2,1185.6 L690.5,1185.7 L691.7,1185.8 L692.9,1185.9 L694.2,1186.1 L695.4,1186.2 L696.7,1186.3 L697.9,1186.4 L699.1,1186.5 L700.4,1186.6 L701.6,1186.7 L702.9,1186.8 L704.1,1186.9 L705.3,1187.0 L706.6,1187.1 L707.8,1187.2 L709.1,1187.3 L710.3,1187.4 L711.5,1187.5 L712.8,1187.6 L714.0,1187.7 L715.2,1187.8 L716.5,1187.8 L717.7,1187.9 L719.0,1188.0 L720.2,1188.1 L721.4,1188.2 L722.7,1188.3 L723.9,1188.4 L725.2,1188.5 L726.4,1188.5 L727.6,1188.6 L728.9,1188.7 L730.1,1188.8 L731.3,1188.9 L732.6,1188.9 L733.8,1189.0 L735.1,1189.1 L736.3,1189.2 L737.5,1189.2 L738.8,1189.3 L740.0,1189.4 L741.3,1189.5 L742.5,1189.5 L743.7,1189.6 L745.0,1189.7 L746.2,1189.8 L747.5,1189.8 L748.7,1189.9 L749.9,1190.0 L751.2,1190.0 L752.4,1190.1 L753.6,1190.2 L754.9,1190.2 L756.1,1190.3" fill="none" stroke="#000" stroke-width="4.4" stroke-linejoin="round" stroke-linecap="butt"/>
<path d="M172.4,412.5 V1218.6 H757" fill="none" stroke="#333" stroke-width="3.4"/>
<path d="M157.3,451.1H172.4M157.3,525.9H172.4M157.3,600.7H172.4M157.3,675.5H172.4M157.3,750.3H172.4M157.3,825.2H172.4M157.3,900.0H172.4M157.3,974.8H172.4M157.3,1049.6H172.4M157.3,1124.4H172.4M157.3,1199.2H172.4M164,413.7H172.4M164,488.5H172.4M164,563.3H172.4M164,638.1H172.4M164,712.9H172.4M164,787.8H172.4M164,862.6H172.4M164,937.4H172.4M164,1012.2H172.4M164,1087.0H172.4M164,1161.8H172.4M197.9,1218.6V1231M321.9,1218.6V1231M446.0,1218.6V1231M570.0,1218.6V1231M694.1,1218.6V1231M259.9,1218.6V1225.5M384.0,1218.6V1225.5M508.0,1218.6V1225.5M632.1,1218.6V1225.5M756.1,1218.6V1225.5" stroke="#333" stroke-width="3.2" fill="none"/>
<text transform="translate(71,1149) rotate(-90)" font-family="'Liberation Sans', Arial, sans-serif" font-size="49" fill="#2e2e2e"><tspan x="-1.5" y="0" font-size="52" font-style="italic">K</tspan><tspan x="30.2" y="-20.5" font-size="35.5">XPS</tspan><tspan x="31.1" y="15.5" font-size="35" font-style="italic">eff</tspan><tspan x="99" y="0" letter-spacing="0.25">(x; </tspan><tspan font-family="'Liberation Serif', 'Times New Roman', serif" font-style="italic">ħ</tspan><tspan font-family="'Liberation Serif', 'Times New Roman', serif">ω</tspan><tspan letter-spacing="0.25">) (norm. intensity)</tspan></text>
<path d="M1719.9,920.3 L1720.0,921.9 L1720.0,923.5 L1720.1,925.1 L1720.2,926.6 L1720.2,928.2 L1720.3,929.8 L1720.4,931.3 L1720.5,932.9 L1720.6,934.4 L1720.6,935.9 L1720.7,937.4 L1720.8,938.9 L1720.9,940.5 L1721.1,942.0 L1721.2,943.5 L1721.3,945.0 L1721.4,946.4 L1721.5,947.9 L1721.7,949.4 L1721.8,950.9 L1721.9,952.3 L1722.1,953.8 L1722.2,955.3 L1722.4,956.7 L1722.5,958.2 L1722.7,959.6 L1722.9,961.1 L1723.1,962.5 L1723.2,964.0 L1723.4,965.4 L1723.6,966.9 L1723.8,968.3 L1724.0,969.8 L1724.2,971.2 L1724.4,972.6 L1724.7,974.1 L1724.9,975.5 L1725.1,977.0 L1725.4,978.4 L1725.6,979.8 L1725.8,981.3 L1726.1,982.7 L1726.4,984.2 L1726.6,985.6 L1726.9,987.1 L1727.2,988.5 L1727.5,990.0 L1727.8,991.4 L1728.1,992.9 L1728.4,994.4 L1728.7,995.8 L1729.0,997.3 L1729.4,998.8 L1729.7,1000.3 L1730.1,1001.7 L1730.4,1003.2 L1730.8,1004.7 L1731.2,1006.2 L1731.5,1007.7 L1731.9,1009.2 L1732.3,1010.8 L1732.7,1012.3 L1733.1,1013.8 L1733.6,1015.3 L1734.0,1016.8 L1734.4,1018.3 L1734.9,1019.8 L1735.4,1021.3 L1735.9,1022.8 L1736.4,1024.3 L1736.9,1025.8 L1737.4,1027.3 L1737.9,1028.8 L1738.5,1030.2 L1739.1,1031.7 L1739.6,1033.1 L1740.2,1034.6 L1740.9,1036.0 L1741.5,1037.4 L1742.2,1038.8 L1742.8,1040.2 L1743.5,1041.5 L1744.2,1042.9 L1745.0,1044.2 L1745.7,1045.5 L1746.5,1046.8 L1747.3,1048.1 L1748.1,1049.3 L1748.9,1050.5 L1749.8,1051.8 L1750.7,1052.9 L1751.6,1054.1 L1752.5,1055.2 L1753.5,1056.3 L1754.4,1057.4 L1755.4,1058.5 L1756.5,1059.5 L1757.5,1060.5 L1758.6,1061.5 L1759.7,1062.4 L1760.8,1063.3 L1762.0,1064.2 L1763.2,1065.0 L1764.4,1065.8 L1765.7,1066.6 L1766.9,1067.3 L1768.2,1068.0 L1769.6,1068.7 L1770.9,1069.3 L1772.3,1069.8 L1773.7,1070.3 L1775.2,1070.8 L1776.6,1071.2 L1778.0,1071.5 L1779.5,1071.7 L1780.9,1071.9 L1782.4,1072.0 L1783.8,1072.0 L1785.3,1071.9 L1786.7,1071.7 L1788.2,1071.4 L1789.6,1071.0 L1791.0,1070.6 L1792.4,1070.0 L1793.8,1069.4 L1795.1,1068.7 L1796.5,1068.0 L1797.8,1067.2 L1799.1,1066.4 L1800.5,1065.5 L1801.8,1064.7 L1803.1,1063.8 L1804.3,1062.9 L1805.6,1062.0 L1806.9,1061.2 L1808.1,1060.3 L1809.4,1059.4 L1810.6,1058.5 L1811.8,1057.6 L1813.0,1056.6 L1814.2,1055.7 L1815.4,1054.8 L1816.6,1053.9 L1817.8,1052.9 L1818.9,1052.0 L1820.1,1051.0 L1821.3,1050.1 L1822.4,1049.1 L1823.5,1048.1 L1824.7,1047.2 L1825.8,1046.2 L1826.9,1045.2 L1828.0,1044.2 L1829.1,1043.2 L1830.2,1042.2 L1831.3,1041.2 L1832.4,1040.2 L1833.5,1039.2 L1834.5,1038.1 L1835.6,1037.1 L1836.7,1036.1 L1837.7,1035.0 L1838.8,1034.0 L1839.9,1032.9 L1840.9,1031.9 L1842.0,1030.8 L1843.0,1029.7 L1844.1,1028.7 L1845.1,1027.6 L1846.1,1026.5 L1847.2,1025.4 L1848.2,1024.3 L1849.2,1023.2 L1850.3,1022.1 L1851.3,1021.0 L1852.3,1019.9 L1853.3,1018.7 L1854.3,1017.6 L1855.3,1016.5 L1856.3,1015.3 L1857.3,1014.2 L1858.3,1013.0 L1859.3,1011.8 L1860.2,1010.7 L1861.2,1009.5 L1862.2,1008.3 L1863.1,1007.2 L1864.1,1006.0 L1865.0,1004.8 L1866.0,1003.6 L1866.9,1002.4 L1867.8,1001.2 L1868.7,1000.0 L1869.6,998.8 L1870.5,997.5 L1871.4,996.3 L1872.3,995.1 L1873.2,993.8 L1874.1,992.6 L1874.9,991.4 L1875.8,990.1 L1876.6,988.9 L1877.4,987.6 L1878.3,986.3 L1879.1,985.1 L1879.9,983.8 L1880.7,982.5 L1881.5,981.2 L1882.3,980.0 L1883.0,978.7 L1883.8,977.4 L1884.5,976.1 L1885.3,974.8 L1886.0,973.5 L1886.7,972.1 L1887.4,970.8 L1888.1,969.5 L1888.8,968.2 L1889.5,966.9 L1890.1,965.5 L1890.8,964.2 L1891.4,962.8 L1892.1,961.5 L1892.7,960.1 L1893.3,958.8 L1893.9,957.4 L1894.4,956.1 L1895.0,954.7 L1895.6,953.3 L1896.1,952.0 L1896.7,950.6 L1897.2,949.2 L1897.7,947.8 L1898.2,946.4 L1898.7,945.1 L1899.2,943.7 L1899.7,942.3 L1900.1,940.9 L1900.6,939.5 L1901.0,938.1 L1901.5,936.6 L1901.9,935.2 L1902.3,933.8 L1902.8,932.4 L1903.2,931.0 L1903.6,929.5 L1904.0,928.1 L1904.3,926.7 L1904.7,925.2 L1905.1,923.8 L1905.5,922.3 L1905.8,920.9 L1906.2,919.4 L1906.5,918.0 L1906.8,916.5 L1907.2,915.1 L1907.5,913.6 L1907.8,912.2 L1908.1,910.7 L1908.4,909.2 L1908.7,907.7 L1909.0,906.3 L1909.3,904.8 L1909.5,903.3 L1909.8,901.8 L1910.1,900.3 L1910.4,898.8 L1910.6,897.4 L1910.9,895.9 L1911.1,894.4 L1911.4,892.9 L1911.6,891.4 L1911.9,889.9 L1912.1,888.4 L1912.3,886.8 L1912.6,885.3 L1912.8,883.8 L1913.0,882.3 L1913.2,880.8 L1913.4,879.3 L1913.6,877.7 L1913.9,876.2 L1914.1,874.7 L1914.3,873.2 L1914.5,871.6 L1914.7,870.1 L1914.9,868.6 L1915.1,867.1 L1915.3,865.5 L1915.5,864.0 L1915.7,862.5 L1915.9,860.9 L1916.1,859.4 L1916.3,857.9 L1916.5,856.3 L1916.8,854.8 L1917.0,853.3 L1917.2,851.7 L1917.4,850.2 L1917.6,848.7 L1917.9,847.2 L1918.1,845.6 L1918.3,844.1 L1918.6,842.6 L1918.8,841.1 L1919.1,839.6 L1919.3,838.0 L1919.6,836.5 L1919.9,835.0 L1920.1,833.5 L1920.4,832.0 L1920.7,830.5 L1921.0,829.0 L1921.3,827.5 L1921.6,826.1 L1922.0,824.6 L1922.3,823.1 L1922.6,821.6 L1923.0,820.2 L1923.3,818.7 L1923.7,817.2 L1924.1,815.8 L1924.5,814.3 L1924.9,812.9 L1925.3,811.5 L1925.7,810.0 L1926.2,808.6 L1926.6,807.2 L1927.1,805.8 L1927.5,804.4 L1928.0,803.0 L1928.5,801.6 L1929.0,800.2 L1929.6,798.8 L1930.1,797.4 L1930.7,796.1 L1931.2,794.8 L1931.8,793.5 L1932.4,792.4 L1933.0,791.3 L1933.6,790.3 L1934.3,789.5 L1934.9,788.9 L1935.6,788.5 L1936.2,788.2 L1936.9,788.2 L1937.6,788.4 L1938.3,788.8 L1939.0,789.3 L1939.6,790.1 L1940.3,790.9 L1941.0,791.9 L1941.6,793.0 L1942.3,794.2 L1942.9,795.4 L1943.5,796.7 L1944.1,798.1 L1944.6,799.4 L1945.2,800.9 L1945.7,802.3 L1946.2,803.8 L1946.7,805.3 L1947.1,806.8 L1947.6,808.4 L1948.0,810.0 L1948.4,811.6 L1948.8,813.2 L1949.2,814.8 L1949.6,816.4 L1950.0,818.1 L1950.3,819.7 L1950.7,821.4 L1951.0,823.0 L1951.4,824.6 L1951.7,826.2 L1952.0,827.8 L1952.4,829.5 L1952.7,831.1 L1953.0,832.6 L1953.3,834.2 L1953.7,835.8 L1954.0,837.4 L1954.3,838.9 L1954.6,840.5 L1954.9,842.1 L1955.2,843.6 L1955.5,845.2 L1955.7,846.7 L1956.0,848.2 L1956.3,849.8 L1956.6,851.3 L1956.9,852.8 L1957.1,854.3 L1957.4,855.8 L1957.7,857.3 L1957.9,858.8 L1958.2,860.3 L1958.5,861.8 L1958.7,863.3 L1959.0,864.8 L1959.2,866.3 L1959.5,867.7 L1959.7,869.2 L1960.0,870.7 L1960.3,872.1 L1960.5,873.6 L1960.7,875.1 L1961.0,876.5 L1961.2,878.0 L1961.5,879.4 L1961.7,880.9 L1962.0,882.3 L1962.2,883.8 L1962.5,885.2 L1962.7,886.7 L1963.0,888.1 L1963.2,889.6 L1963.4,891.0 L1963.7,892.4 L1963.9,893.9 L1964.2,895.3 L1964.4,896.8 L1964.7,898.2 L1964.9,899.6 L1965.2,901.1 L1965.4,902.5 L1965.7,903.9 L1965.9,905.4 L1966.2,906.8 L1966.4,908.3 L1966.7,909.7 L1967.0,911.1 L1967.2,912.6 L1967.5,914.0 L1967.8,915.5 L1968.0,916.9 L1968.3,918.4 L1968.6,919.8 L1968.9,921.3 L1969.1,922.7 L1969.4,924.2 L1969.7,925.6 L1970.0,927.1 L1970.3,928.6 L1970.6,930.0 L1970.9,931.5 L1971.2,933.0 L1971.5,934.4 L1971.8,935.9 L1972.1,937.4 L1972.5,938.8 L1972.8,940.3 L1973.1,941.8 L1973.4,943.2 L1973.8,944.7 L1974.1,946.2 L1974.5,947.6 L1974.8,949.1 L1975.2,950.6 L1975.5,952.1 L1975.9,953.5 L1976.3,955.0 L1976.7,956.5 L1977.0,957.9 L1977.4,959.4 L1977.8,960.9 L1978.2,962.3 L1978.6,963.8 L1979.0,965.2 L1979.5,966.7 L1979.9,968.2 L1980.3,969.6 L1980.8,971.1 L1981.2,972.5 L1981.7,974.0 L1982.1,975.4 L1982.6,976.9 L1983.1,978.3 L1983.5,979.7 L1984.0,981.2 L1984.5,982.6 L1985.0,984.0 L1985.5,985.5 L1986.1,986.9 L1986.6,988.3 L1987.1,989.7 L1987.7,991.1 L1988.2,992.5 L1988.8,993.9 L1989.3,995.3 L1989.9,996.7 L1990.5,998.1 L1991.1,999.5 L1991.7,1000.9 L1992.3,1002.2 L1992.9,1003.6 L1993.5,1005.0 L1994.2,1006.3 L1994.8,1007.7 L1995.5,1009.0 L1996.2,1010.4 L1996.8,1011.7 L1997.5,1013.0 L1998.2,1014.4 L1998.9,1015.7 L1999.6,1017.0 L2000.4,1018.3 L2001.1,1019.6 L2001.9,1020.9 L2002.6,1022.2 L2003.4,1023.4 L2004.2,1024.7 L2005.0,1026.0 L2005.8,1027.2 L2006.6,1028.5 L2007.4,1029.7 L2008.2,1030.9 L2009.1,1032.2 L2009.9,1033.4 L2010.8,1034.6 L2011.7,1035.8 L2012.6,1037.0 L2013.5,1038.2 L2014.4,1039.4 L2015.3,1040.5 L2016.2,1041.7 L2017.2,1042.9 L2018.1,1044.0 L2019.1,1045.2 L2020.0,1046.3 L2021.0,1047.4 L2022.0,1048.6 L2023.0,1049.7 L2024.0,1050.8 L2025.0,1051.9 L2026.0,1053.0 L2027.1,1054.0 L2028.1,1055.1 L2029.2,1056.2 L2030.2,1057.3 L2031.3,1058.3 L2032.4,1059.4 L2033.4,1060.4 L2034.5,1061.4 L2035.6,1062.4 L2036.7,1063.5 L2037.9,1064.5 L2039.0,1065.5 L2040.1,1066.5 L2041.2,1067.5 L2042.4,1068.4 L2043.5,1069.4 L2044.7,1070.4 L2045.9,1071.3 L2047.0,1072.3 L2048.2,1073.2 L2049.4,1074.1 L2050.6,1075.1 L2051.8,1076.0 L2053.0,1076.9 L2054.2,1077.8 L2055.4,1078.7 L2056.7,1079.6 L2057.9,1080.5 L2059.1,1081.3 L2060.4,1082.2 L2061.6,1083.0 L2062.9,1083.9 L2064.2,1084.7 L2065.4,1085.6 L2066.7,1086.4 L2068.0,1087.2 L2069.3,1088.0 L2070.5,1088.8 L2071.8,1089.6 L2073.1,1090.4 L2074.4,1091.2 L2075.7,1092.0 L2077.1,1092.7 L2078.4,1093.5 L2079.7,1094.2 L2081.0,1095.0 L2082.3,1095.7 L2083.7,1096.4 L2085.0,1097.1 L2086.4,1097.9 L2087.7,1098.6 L2089.1,1099.3 L2090.4,1099.9 L2091.8,1100.6 L2093.1,1101.3 L2094.5,1102.0 L2095.8,1102.6 L2097.2,1103.3 L2098.6,1103.9 L2100.0,1104.5 L2101.3,1105.2 L2102.7,1105.8 L2104.1,1106.4 L2105.5,1107.0 L2106.9,1107.6 L2108.3,1108.2 L2109.7,1108.7 L2111.1,1109.3 L2112.4,1109.9 L2113.8,1110.4 L2115.2,1111.0 L2116.6,1111.5 L2118.1,1112.0 L2119.5,1112.6 L2120.9,1113.1 L2122.3,1113.6 L2123.7,1114.1 L2125.1,1114.6 L2126.5,1115.1 L2127.9,1115.6 L2129.3,1116.0 L2130.8,1116.5 L2132.2,1117.0 L2133.6,1117.4 L2135.0,1117.9 L2136.5,1118.3 L2137.9,1118.7 L2139.3,1119.2 L2140.8,1119.6 L2142.2,1120.0 L2143.6,1120.4 L2145.1,1120.8 L2146.5,1121.2 L2147.9,1121.6 L2149.4,1122.0 L2150.8,1122.4 L2152.3,1122.7 L2153.7,1123.1 L2155.2,1123.5 L2156.6,1123.8 L2158.1,1124.2 L2159.5,1124.5 L2161.0,1124.9 L2162.4,1125.2 L2163.9,1125.5 L2165.3,1125.8 L2166.8,1126.2 L2168.3,1126.5 L2169.7,1126.8 L2171.2,1127.1 L2172.7,1127.4 L2174.1,1127.7 L2175.6,1127.9 L2177.1,1128.2 L2178.5,1128.5 L2180.0,1128.8 L2181.5,1129.1 L2182.9,1129.3 L2184.4,1129.6 L2185.9,1129.8 L2187.4,1130.1 L2188.8,1130.3 L2190.3,1130.6 L2191.8,1130.8 L2193.3,1131.1 L2194.7,1131.3 L2196.2,1131.5 L2197.7,1131.7 L2199.2,1132.0 L2200.7,1132.2 L2202.2,1132.4 L2203.6,1132.6 L2205.1,1132.8 L2206.6,1133.0 L2208.1,1133.2 L2209.6,1133.4 L2211.1,1133.6 L2212.6,1133.8 L2214.1,1134.0 L2215.6,1134.2 L2217.0,1134.3 L2218.5,1134.5 L2220.0,1134.7 L2221.5,1134.9 L2223.0,1135.0 L2224.5,1135.2 L2226.0,1135.4 L2227.5,1135.5 L2229.0,1135.7 L2230.5,1135.9 L2232.0,1136.0 L2233.5,1136.2 L2235.0,1136.3 L2236.5,1136.5 L2238.0,1136.6 L2239.5,1136.8 L2241.0,1136.9 L2242.5,1137.0 L2244.0,1137.2 L2245.5,1137.3 L2247.0,1137.5 L2248.5,1137.6 L2250.0,1137.7 L2251.5,1137.9 L2253.0,1138.0 L2254.5,1138.1 L2256.0,1138.3 L2257.5,1138.4 L2259.0,1138.5 L2260.5,1138.7 L2262.0,1138.8 L2263.5,1138.9 L2265.0,1139.0 L2266.5,1139.2 L2268.0,1139.3 L2269.5,1139.4 L2271.0,1139.5 L2272.5,1139.7 L2274.0,1139.8 L2275.5,1139.9 L2277.0,1140.0 L2278.6,1140.1 L2280.1,1140.3 L2281.6,1140.4 L2283.1,1140.5 L2284.6,1140.6 L2286.1,1140.8 L2287.6,1140.9 L2289.1,1141.0 L2290.6,1141.1 L2292.1,1141.3 L2293.6,1141.4 L2295.1,1141.5 L2296.6,1141.6 L2298.1,1141.8 L2299.6,1141.9 L2301.1,1142.0 L2302.6,1142.1 L2304.1,1142.3 L2305.6,1142.4 L2307.1,1142.5 L2308.6,1142.7 L2310.1,1142.8 L2311.5,1143.0 L2313.0,1143.1 L2314.5,1143.2" fill="none" stroke="#ff0000" stroke-width="6.6" stroke-linejoin="round"/>
<path d="M1676.2,698.3 V1160 M1661.5,1155.3 H2317.2" fill="none" stroke="#333" stroke-width="3.4"/>
<path d="M1668,698.3H1676.2M1661.2,1155.3H1676.2M1661.2,1024.3H1676.2M1661.2,893.3H1676.2M1661.2,762.3H1676.2M1668,1089.8H1676.2M1668,958.8H1676.2M1668,827.8H1676.2M1702.5,1155.3V1169.7M1838.4,1155.3V1169.7M1974.3,1155.3V1169.7M2110.2,1155.3V1169.7M2246.1,1155.3V1169.7M1729.7,1155.3V1161M1756.9,1155.3V1161M1784.0,1155.3V1161M1811.2,1155.3V1161M1865.6,1155.3V1161M1892.8,1155.3V1161M1919.9,1155.3V1161M1947.1,1155.3V1161M2001.5,1155.3V1161M2028.7,1155.3V1161M2055.8,1155.3V1161M2083.0,1155.3V1161M2137.4,1155.3V1161M2164.6,1155.3V1161M2191.7,1155.3V1161M2218.9,1155.3V1161M2273.3,1155.3V1161M2300.5,1155.3V1161" stroke="#333" stroke-width="3.2" fill="none"/>
<text transform="translate(1471.4,1191.4) rotate(-90)" font-family="'Liberation Sans', Arial, sans-serif" font-size="55" fill="#2e2e2e"><tspan x="0" y="0" font-style="italic">K</tspan><tspan x="36.4" y="-24.4" font-size="37.7">XPS</tspan><tspan x="33.6" y="16" font-size="36" font-style="italic">eff,av</tspan><tspan x="137.5" y="0" font-family="'Liberation Serif', 'Times New Roman', serif">(</tspan><tspan x="155.5" font-family="'Liberation Serif', 'Times New Roman', serif" font-style="italic" font-size="50">ħ</tspan><tspan x="179.5" font-family="'Liberation Serif', 'Times New Roman', serif" font-size="52">ω</tspan><tspan x="216" font-family="'Liberation Serif', 'Times New Roman', serif">)</tspan><tspan x="280">(eV</tspan><tspan x="367" y="-24.4" font-size="36">-1</tspan><tspan x="398" y="0">Å</tspan><tspan x="437" y="-24.4" font-size="36">-1</tspan><tspan x="471" y="0">)</tspan></text>
<polygon points="902.4,957 1217.2,957 1217.2,922.4 1322,991.7 1217.2,1062 1217.2,1026.5 902.4,1026.5" fill="#dadada" stroke="#333" stroke-width="3.6" stroke-linejoin="miter"/>
<defs>
<clipPath id="redreg"><path d="M956.1,526.8 L957.8,524.7 L959.5,522.7 L961.3,520.7 L963.1,518.8 L964.9,516.8 L966.7,514.9 L968.5,513.1 L970.4,511.3 L972.3,509.5 L974.2,507.8 L976.1,506.0 L978.1,504.3 L980.1,502.7 L982.0,501.0 L984.0,499.4 L986.1,497.9 L988.1,496.3 L990.1,494.8 L992.2,493.2 L994.3,491.8 L996.3,490.3 L998.4,488.8 L1000.6,487.4 L1002.7,486.0 L1004.8,484.5 L1007.0,483.2 L1009.1,481.8 L1011.3,480.4 L1013.4,479.0 L1015.6,477.7 L1017.8,476.3 L1020.0,475.0 L1022.2,473.7 L1024.4,472.3 L1026.6,471.0 L1028.8,469.7 L1031.0,468.4 L1033.2,467.1 L1035.4,465.7 L1037.6,464.4 L1039.8,463.1 L1042.1,461.8 L1044.3,460.4 L1046.5,459.1 L1048.7,457.7 L1050.9,456.4 L1053.1,455.0 L1055.3,453.6 L1057.5,452.2 L1059.7,450.9 L1061.9,449.4 L1064.1,448.0 L1066.2,446.6 L1068.4,445.2 L1070.6,443.8 L1072.8,442.4 L1075.0,440.9 L1077.2,439.5 L1079.3,438.1 L1081.5,436.7 L1083.7,435.2 L1085.9,433.8 L1088.1,432.4 L1090.2,431.0 L1092.4,429.6 L1094.6,428.2 L1096.8,426.8 L1099.0,425.4 L1101.2,424.1 L1103.4,422.7 L1105.6,421.4 L1107.8,420.0 L1110.0,418.7 L1112.2,417.4 L1114.4,416.1 L1116.6,414.8 L1118.9,413.6 L1121.1,412.3 L1123.4,411.1 L1125.6,409.9 L1127.8,408.7 L1130.1,407.5 L1132.4,406.4 L1134.6,405.3 L1136.9,404.2 L1139.2,403.1 L1141.5,402.1 L1143.8,401.1 L1146.1,400.1 L1148.5,399.2 L1150.8,398.2 L1153.2,397.3 L1155.6,396.5 L1158.0,395.6 L1160.4,394.8 L1162.8,394.1 L1165.3,393.3 L1167.8,392.6 L1170.4,392.0 L1172.9,391.3 L1175.5,390.7 L1178.2,390.2 L1180.8,389.6 L1183.6,389.2 L1186.3,388.7 L1189.1,388.3 L1191.9,388.0 L1194.7,387.8 L1197.5,387.7 L1200.2,387.7 L1202.9,387.9 L1205.5,388.3 L1207.9,388.9 L1210.2,389.8 L1212.3,390.9 L1214.2,392.3 L1215.8,393.9 L1217.3,395.7 L1218.6,397.7 L1219.8,399.8 L1220.8,402.0 L1221.7,404.4 L1222.6,406.8 L1223.3,409.3 L1224.0,411.8 L1224.7,414.3 L1225.3,416.8 L1225.8,419.3 L1226.3,421.8 L1226.7,424.4 L1227.2,426.9 L1227.5,429.4 L1227.9,432.0 L1228.1,434.5 L1228.4,437.1 L1228.6,439.7 L1228.8,442.2 L1228.9,444.8 L1229.1,447.4 L1229.2,450.0 L1229.2,452.6 L1229.3,455.1 L1229.3,457.7 L1229.3,460.3 L1229.3,462.9 L1229.3,465.5 L1229.2,468.1 L1229.2,470.7 L1229.1,473.4 L1229.0,476.0 L1228.9,478.6 L1228.8,481.2 L1228.7,483.8 L1228.6,486.4 L1228.5,489.0 L1228.4,491.6 L1228.3,494.2 L1228.2,496.8 L1228.0,499.4 L1227.9,502.0 L1227.8,504.6 L1227.7,507.2 L1227.6,509.8 L1227.5,512.3 L1227.4,514.9 L1227.4,517.5 L1227.3,520.1 L1227.2,522.7 L1227.1,525.3 L1227.0,527.9 L1226.9,530.4 L1226.8,533.0 L1226.8,535.6 L1226.7,538.2 L1226.6,540.8 L1226.6,543.3 L1226.5,545.9 L1226.4,548.5 L1226.4,551.1 L1226.3,553.7 L1226.3,556.2 L1226.2,558.8 L1226.2,561.4 L1226.1,564.0 L1226.1,566.5 L1226.1,569.1 L1226.1,571.7 L1226.0,574.2 L1226.0,576.8 L1226.0,579.4 L1226.0,582.0 L1226.0,584.5 L1226.0,587.1 L1226.0,589.7 L1226.0,592.2 L1226.0,594.8 L1226.1,597.4 L1226.1,600.0 L1226.1,602.5 L1226.2,605.1 L1226.2,607.7 L1226.3,610.2 L1226.3,612.8 L1226.4,615.4 L1226.5,618.0 L1226.5,620.5 L1226.6,623.1 L1226.7,625.7 L1226.8,628.3 L1226.9,630.8 L1227.0,633.4 L1227.1,636.0 L1227.3,638.6 L1227.4,641.2 L1227.5,643.7 L1227.7,646.3 L1227.8,648.9 L1228.0,651.5 L1228.2,654.0 L1228.4,656.6 L1228.5,659.2 L1228.8,661.8 L1229.0,664.4 L1229.2,666.9 L1229.4,669.5 L1229.7,672.1 L1230.0,674.7 L1230.3,677.2 L1230.6,679.8 L1230.9,682.3 L1231.2,684.9 L1231.6,687.5 L1231.9,690.0 L1232.3,692.6 L1232.7,695.1 L1233.1,697.7 L1233.6,700.2 L1234.0,702.7 L1234.5,705.3 L1235.0,707.8 L1235.5,710.3 L1186.0,768.5 L944.0,526.5Z"/></clipPath>
<clipPath id="above"><rect x="800" y="300" width="600" height="227"/></clipPath>
<clipPath id="below"><rect x="800" y="527" width="600" height="400"/></clipPath>
</defs>
<rect x="849" y="527" width="523.2" height="309.8" fill="#e1e1e1"/>
<g clip-path="url(#redreg)"><g clip-path="url(#above)"><path d="M871.0,453.5L1199.0,76.1M881.9,464.4L1209.9,87.0M892.8,475.3L1220.8,97.9M903.7,486.2L1231.7,108.8M914.6,497.1L1242.6,119.8M925.5,508.0L1253.6,130.7M936.4,518.9L1264.5,141.6M947.4,529.9L1275.4,152.5M958.3,540.8L1286.3,163.4M969.2,551.7L1297.2,174.3M980.1,562.6L1308.1,185.2M991.0,573.5L1319.0,196.2M1001.9,584.4L1330.0,207.1M1012.8,595.3L1340.9,218.0M1023.7,606.2L1351.8,228.9M1034.7,617.2L1362.7,239.8M1045.6,628.1L1373.6,250.7M1056.5,639.0L1384.5,261.6M1067.4,649.9L1395.4,272.5M1078.3,660.8L1406.3,283.5M1089.2,671.7L1417.3,294.4M1100.1,682.6L1428.2,305.3M1111.1,693.6L1439.1,316.2M1122.0,704.5L1450.0,327.1M1132.9,715.4L1460.9,338.0M1143.8,726.3L1471.8,348.9M1154.7,737.2L1482.7,359.9M1165.6,748.1L1493.6,370.8M1176.5,759.0L1504.6,381.7M1187.4,769.9L1515.5,392.6M1198.4,780.9L1526.4,403.5" stroke="#ff0a0a" stroke-width="3" stroke-dasharray="6 2.4 2.2 2.4" fill="none"/></g>
<g clip-path="url(#below)"><path d="M871.0,453.5L1199.0,76.1M881.9,464.4L1209.9,87.0M892.8,475.3L1220.8,97.9M903.7,486.2L1231.7,108.8M914.6,497.1L1242.6,119.8M925.5,508.0L1253.6,130.7M936.4,518.9L1264.5,141.6M947.4,529.9L1275.4,152.5M958.3,540.8L1286.3,163.4M969.2,551.7L1297.2,174.3M980.1,562.6L1308.1,185.2M991.0,573.5L1319.0,196.2M1001.9,584.4L1330.0,207.1M1012.8,595.3L1340.9,218.0M1023.7,606.2L1351.8,228.9M1034.7,617.2L1362.7,239.8M1045.6,628.1L1373.6,250.7M1056.5,639.0L1384.5,261.6M1067.4,649.9L1395.4,272.5M1078.3,660.8L1406.3,283.5M1089.2,671.7L1417.3,294.4M1100.1,682.6L1428.2,305.3M1111.1,693.6L1439.1,316.2M1122.0,704.5L1450.0,327.1M1132.9,715.4L1460.9,338.0M1143.8,726.3L1471.8,348.9M1154.7,737.2L1482.7,359.9M1165.6,748.1L1493.6,370.8M1176.5,759.0L1504.6,381.7M1187.4,769.9L1515.5,392.6M1198.4,780.9L1526.4,403.5" stroke="#ff6e6e" stroke-width="3" stroke-dasharray="6 2.4 2.2 2.4" fill="none"/></g></g>
<polygon points="1010.1,481.1 1006.5,493.2 998.6,486.4" fill="#ff0000"/>
<polygon points="1053.4,454.8 1049.7,466.9 1041.9,460.1" fill="#ff0000"/>
<polygon points="1099.7,425.0 1096.1,437.1 1088.3,430.2" fill="#ff0000"/>
<polygon points="1139.0,403.2 1135.4,415.3 1127.6,408.5" fill="#ff0000"/>
<polygon points="1168.9,392.3 1165.3,404.4 1157.4,397.6" fill="#ff0000"/>
<polygon points="1193.2,387.9 1189.5,400.0 1181.7,393.2" fill="#ff0000"/>
<polygon points="1211.4,390.4 1207.8,402.5 1199.9,395.7" fill="#ff0000"/>
<polygon points="1221.1,402.7 1217.5,414.8 1209.6,408.0" fill="#ff0000"/>
<polygon points="1226.0,420.5 1222.4,432.6 1214.6,425.7" fill="#ff0000"/>
<polygon points="1228.7,440.9 1225.1,453.0 1217.2,446.1" fill="#ff0000"/>
<polygon points="1229.3,463.7 1225.7,475.8 1217.8,468.9" fill="#ff0000"/>
<polygon points="1228.5,488.0 1224.9,500.1 1217.0,493.3" fill="#ff0000"/>
<polygon points="1227.5,512.6 1223.9,524.7 1216.1,517.9" fill="#ff0000"/>
<polygon points="1226.7,537.0 1223.1,549.1 1215.3,542.3" fill="#ff6464"/>
<polygon points="1226.2,561.1 1222.6,573.2 1214.7,566.4" fill="#ff6464"/>
<polygon points="1226.0,584.8 1222.4,596.9 1214.5,590.1" fill="#ff6464"/>
<polygon points="1226.2,608.0 1222.6,620.1 1214.7,613.3" fill="#ff6464"/>
<polygon points="1226.9,630.7 1223.3,642.8 1215.4,636.0" fill="#ff6464"/>
<polygon points="1228.1,652.8 1224.5,664.9 1216.6,658.1" fill="#ff6464"/>
<polygon points="1229.9,674.1 1226.3,686.2 1218.5,679.4" fill="#ff6464"/>
<polygon points="1232.6,694.5 1229.0,706.6 1221.1,699.8" fill="#ff6464"/>
<polygon points="1236.3,713.8 1232.7,725.9 1224.8,719.0" fill="#ff6464"/>
<path d="M956.1,526.8 L957.8,524.7 L959.5,522.7 L961.3,520.7 L963.1,518.8 L964.9,516.8 L966.7,514.9 L968.5,513.1 L970.4,511.3 L972.3,509.5 L974.2,507.8 L976.1,506.0 L978.1,504.3 L980.1,502.7 L982.0,501.0 L984.0,499.4 L986.1,497.9 L988.1,496.3 L990.1,494.8 L992.2,493.2 L994.3,491.8 L996.3,490.3 L998.4,488.8 L1000.6,487.4 L1002.7,486.0 L1004.8,484.5 L1007.0,483.2 L1009.1,481.8 L1011.3,480.4 L1013.4,479.0 L1015.6,477.7 L1017.8,476.3 L1020.0,475.0 L1022.2,473.7 L1024.4,472.3 L1026.6,471.0 L1028.8,469.7 L1031.0,468.4 L1033.2,467.1 L1035.4,465.7 L1037.6,464.4 L1039.8,463.1 L1042.1,461.8 L1044.3,460.4 L1046.5,459.1 L1048.7,457.7 L1050.9,456.4 L1053.1,455.0 L1055.3,453.6 L1057.5,452.2 L1059.7,450.9 L1061.9,449.4 L1064.1,448.0 L1066.2,446.6 L1068.4,445.2 L1070.6,443.8 L1072.8,442.4 L1075.0,440.9 L1077.2,439.5 L1079.3,438.1 L1081.5,436.7 L1083.7,435.2 L1085.9,433.8 L1088.1,432.4 L1090.2,431.0 L1092.4,429.6 L1094.6,428.2 L1096.8,426.8 L1099.0,425.4 L1101.2,424.1 L1103.4,422.7 L1105.6,421.4 L1107.8,420.0 L1110.0,418.7 L1112.2,417.4 L1114.4,416.1 L1116.6,414.8 L1118.9,413.6 L1121.1,412.3 L1123.4,411.1 L1125.6,409.9 L1127.8,408.7 L1130.1,407.5 L1132.4,406.4 L1134.6,405.3 L1136.9,404.2 L1139.2,403.1 L1141.5,402.1 L1143.8,401.1 L1146.1,400.1 L1148.5,399.2 L1150.8,398.2 L1153.2,397.3 L1155.6,396.5 L1158.0,395.6 L1160.4,394.8 L1162.8,394.1 L1165.3,393.3 L1167.8,392.6 L1170.4,392.0 L1172.9,391.3 L1175.5,390.7 L1178.2,390.2 L1180.8,389.6 L1183.6,389.2 L1186.3,388.7 L1189.1,388.3 L1191.9,388.0 L1194.7,387.8 L1197.5,387.7 L1200.2,387.7 L1202.9,387.9 L1205.5,388.3 L1207.9,388.9 L1210.2,389.8 L1212.3,390.9 L1214.2,392.3 L1215.8,393.9 L1217.3,395.7 L1218.6,397.7 L1219.8,399.8 L1220.8,402.0 L1221.7,404.4 L1222.6,406.8 L1223.3,409.3 L1224.0,411.8 L1224.7,414.3 L1225.3,416.8 L1225.8,419.3 L1226.3,421.8 L1226.7,424.4 L1227.2,426.9 L1227.5,429.4 L1227.9,432.0 L1228.1,434.5 L1228.4,437.1 L1228.6,439.7 L1228.8,442.2 L1228.9,444.8 L1229.1,447.4 L1229.2,450.0 L1229.2,452.6 L1229.3,455.1 L1229.3,457.7 L1229.3,460.3 L1229.3,462.9 L1229.3,465.5 L1229.2,468.1 L1229.2,470.7 L1229.1,473.4 L1229.0,476.0 L1228.9,478.6 L1228.8,481.2 L1228.7,483.8 L1228.6,486.4 L1228.5,489.0 L1228.4,491.6 L1228.3,494.2 L1228.2,496.8 L1228.0,499.4 L1227.9,502.0 L1227.8,504.6 L1227.7,507.2 L1227.6,509.8 L1227.5,512.3 L1227.4,514.9 L1227.4,517.5 L1227.3,520.1 L1227.2,522.7 L1227.1,525.3 L1227.0,527.9 L1226.9,530.4 L1226.8,533.0 L1226.8,535.6 L1226.7,538.2 L1226.6,540.8 L1226.6,543.3 L1226.5,545.9 L1226.4,548.5 L1226.4,551.1 L1226.3,553.7 L1226.3,556.2 L1226.2,558.8 L1226.2,561.4 L1226.1,564.0 L1226.1,566.5 L1226.1,569.1 L1226.1,571.7 L1226.0,574.2 L1226.0,576.8 L1226.0,579.4 L1226.0,582.0 L1226.0,584.5 L1226.0,587.1 L1226.0,589.7 L1226.0,592.2 L1226.0,594.8 L1226.1,597.4 L1226.1,600.0 L1226.1,602.5 L1226.2,605.1 L1226.2,607.7 L1226.3,610.2 L1226.3,612.8 L1226.4,615.4 L1226.5,618.0 L1226.5,620.5 L1226.6,623.1 L1226.7,625.7 L1226.8,628.3 L1226.9,630.8 L1227.0,633.4 L1227.1,636.0 L1227.3,638.6 L1227.4,641.2 L1227.5,643.7 L1227.7,646.3 L1227.8,648.9 L1228.0,651.5 L1228.2,654.0 L1228.4,656.6 L1228.5,659.2 L1228.8,661.8 L1229.0,664.4 L1229.2,666.9 L1229.4,669.5 L1229.7,672.1 L1230.0,674.7 L1230.3,677.2 L1230.6,679.8 L1230.9,682.3 L1231.2,684.9 L1231.6,687.5 L1231.9,690.0 L1232.3,692.6 L1232.7,695.1 L1233.1,697.7 L1233.6,700.2 L1234.0,702.7 L1234.5,705.3 L1235.0,707.8 L1235.5,710.3 L1236.1,712.8 L1236.6,715.3 L1237.2,717.8 L1237.8,720.3 L1238.5,722.8 L1239.1,725.3 L1239.8,727.8 L1240.5,730.3 L1241.2,732.7 L1242.0,735.2 L1242.8,737.6 L1243.6,740.1 L1244.5,742.5 L1245.3,745.0 L1246.2,747.4 L1247.1,749.8 L1248.1,752.2 L1249.0,754.6 L1250.0,757.0 L1251.0,759.4 L1252.0,761.8 L1253.1,764.1 L1254.1,766.5 L1255.2,768.9 L1256.3,771.2 L1257.4,773.6 L1258.5,775.9 L1259.7,778.3 L1260.8,780.6 L1262.0,782.9 L1263.2,785.2 L1264.4,787.5 L1265.6,789.8 L1266.8,792.1 L1268.0,794.4 L1269.3,796.7 L1270.5,799.0 L1271.8,801.3 L1273.0,803.6 L1274.3,805.8 L1275.6,808.1 L1276.9,810.3 L1278.2,812.6 L1279.5,814.8 L1280.8,817.1 L1282.1,819.3 L1283.4,821.5 L1284.7,823.7 L1286.0,826.0 L1287.3,828.2 L1288.6,830.4 L1289.9,832.6 L1291.2,834.8 L1292.5,837.0 L1293.8,839.2 L1295.1,841.4 L1296.4,843.5 L1297.7,845.7" fill="none" stroke="#9a9a9a" stroke-width="2"/>
<path d="M849,527H1372.2M849,836.8H1372.2" stroke="#888" stroke-width="3.2"/>
<line x1="863.4" y1="446.5" x2="1269.5" y2="852.5" stroke="#8a8a8a" stroke-width="1.8"/>
<line x1="961.7" y1="367.5" x2="1234" y2="639.5" stroke="#8a8a8a" stroke-width="1.8"/>
<line x1="983.3" y1="534.3" x2="1023.0" y2="495.6" stroke="#000" stroke-width="3.8"/>
<polygon points="1030.8,487.8 1025.5,500.9 1017.7,493.1" fill="#000"/>
<line x1="1011.3" y1="563.8" x2="1051.0" y2="525.1" stroke="#000" stroke-width="3.8"/>
<polygon points="1058.8,517.3 1053.5,530.4 1045.7,522.6" fill="#000"/>
<line x1="1035.8" y1="586.0" x2="1075.5" y2="547.3" stroke="#000" stroke-width="3.8"/>
<polygon points="1083.3,539.5 1078.0,552.6 1070.2,544.8" fill="#000"/>
<line x1="1059.5" y1="608.3" x2="1099.2" y2="569.6" stroke="#000" stroke-width="3.8"/>
<polygon points="1107.0,561.8 1101.7,574.9 1093.9,567.1" fill="#000"/>
<line x1="1081.8" y1="629.9" x2="1121.5" y2="591.2" stroke="#000" stroke-width="3.8"/>
<polygon points="1129.3,583.4 1124.0,596.5 1116.2,588.7" fill="#000"/>
<line x1="1105.5" y1="653.6" x2="1145.2" y2="614.9" stroke="#000" stroke-width="3.8"/>
<polygon points="1153.0,607.1 1147.7,620.2 1139.9,612.4" fill="#000"/>
<line x1="1132.1" y1="680.9" x2="1171.8" y2="642.2" stroke="#000" stroke-width="3.8"/>
<polygon points="1179.6,634.4 1174.3,647.5 1166.5,639.7" fill="#000"/>
<line x1="1159.8" y1="708.0" x2="1199.5" y2="669.3" stroke="#000" stroke-width="3.8"/>
<polygon points="1207.3,661.5 1202.0,674.6 1194.2,666.8" fill="#000"/>
<line x1="1190.3" y1="740.4" x2="1230.0" y2="701.7" stroke="#000" stroke-width="3.8"/>
<polygon points="1237.8,693.9 1232.5,707.0 1224.7,699.2" fill="#000"/>
<circle cx="955.9" cy="561" r="9.6" fill="#fff" stroke="#5a5a5a" stroke-width="2.4"/>
<path d="M950.4,561.0H961.4M955.9,555.5V566.5" stroke="#555" stroke-width="2"/>
<circle cx="983.9" cy="591.9" r="9.6" fill="#fff" stroke="#5a5a5a" stroke-width="2.4"/>
<path d="M978.4,591.9H989.4M983.9,586.4V597.4" stroke="#555" stroke-width="2"/>
<circle cx="1008.3" cy="612.7" r="9.6" fill="#fff" stroke="#5a5a5a" stroke-width="2.4"/>
<path d="M1002.8,612.7H1013.8M1008.3,607.2V618.2" stroke="#555" stroke-width="2"/>
<circle cx="1032.1" cy="636.4" r="9.6" fill="#fff" stroke="#5a5a5a" stroke-width="2.4"/>
<path d="M1026.6,636.4H1037.6M1032.1,630.9V641.9" stroke="#555" stroke-width="2"/>
<circle cx="1054.4" cy="658" r="9.6" fill="#fff" stroke="#5a5a5a" stroke-width="2.4"/>
<path d="M1048.9,658.0H1059.9M1054.4,652.5V663.5" stroke="#555" stroke-width="2"/>
<circle cx="1078.1" cy="681" r="9.6" fill="#fff" stroke="#5a5a5a" stroke-width="2.4"/>
<path d="M1072.6,681.0H1083.6M1078.1,675.5V686.5" stroke="#555" stroke-width="2"/>
<circle cx="1104.3" cy="708.6" r="9.6" fill="#fff" stroke="#5a5a5a" stroke-width="2.4"/>
<path d="M1098.8,708.6H1109.8M1104.3,703.1V714.1" stroke="#555" stroke-width="2"/>
<circle cx="1132.4" cy="737.3" r="9.6" fill="#fff" stroke="#5a5a5a" stroke-width="2.4"/>
<path d="M1126.9,737.3H1137.9M1132.4,731.8V742.8" stroke="#555" stroke-width="2"/>
<circle cx="1162.5" cy="768.1" r="9.6" fill="#fff" stroke="#5a5a5a" stroke-width="2.4"/>
<path d="M1157.0,768.1H1168.0M1162.5,762.6V773.6" stroke="#555" stroke-width="2"/>
<circle cx="975.3" cy="542.3" r="9.6" fill="#fff" stroke="#5a5a5a" stroke-width="2.4"/>
<path d="M969.3,542.3H981.3" stroke="#666" stroke-width="2.6"/>
<circle cx="1003.3" cy="571.8" r="9.6" fill="#fff" stroke="#5a5a5a" stroke-width="2.4"/>
<path d="M997.3,571.8H1009.3" stroke="#666" stroke-width="2.6"/>
<circle cx="1027.8" cy="594" r="9.6" fill="#fff" stroke="#5a5a5a" stroke-width="2.4"/>
<path d="M1021.8,594.0H1033.8" stroke="#666" stroke-width="2.6"/>
<circle cx="1051.5" cy="616.3" r="9.6" fill="#fff" stroke="#5a5a5a" stroke-width="2.4"/>
<path d="M1045.5,616.3H1057.5" stroke="#666" stroke-width="2.6"/>
<circle cx="1073.8" cy="637.9" r="9.6" fill="#fff" stroke="#5a5a5a" stroke-width="2.4"/>
<path d="M1067.8,637.9H1079.8" stroke="#666" stroke-width="2.6"/>
<circle cx="1097.5" cy="661.6" r="9.6" fill="#fff" stroke="#5a5a5a" stroke-width="2.4"/>
<path d="M1091.5,661.6H1103.5" stroke="#666" stroke-width="2.6"/>
<circle cx="1124.1" cy="688.9" r="9.6" fill="#fff" stroke="#5a5a5a" stroke-width="2.4"/>
<path d="M1118.1,688.9H1130.1" stroke="#666" stroke-width="2.6"/>
<circle cx="1151.8" cy="716" r="9.6" fill="#fff" stroke="#5a5a5a" stroke-width="2.4"/>
<path d="M1145.8,716.0H1157.8" stroke="#666" stroke-width="2.6"/>
<circle cx="1182.3" cy="748.4" r="9.6" fill="#fff" stroke="#5a5a5a" stroke-width="2.4"/>
<path d="M1176.3,748.4H1188.3" stroke="#666" stroke-width="2.6"/>
<line x1="913" y1="481.7" x2="985.8" y2="401.3" stroke="#2a2a2a" stroke-width="3"/>
<polyline points="911.4,466.7 911.4,483.3 930.5,480.8" fill="none" stroke="#1a1a1a" stroke-width="3.2"/>
<polyline points="967.7,402.3 987.4,399.7 986.4,417.4" fill="none" stroke="#1a1a1a" stroke-width="3.2"/>
<line x1="1291" y1="732.5" x2="1303" y2="732.5" stroke="#2a2a2a" stroke-width="2"/>
<polygon points="1306.5,732.5 1301,729.5 1301,735.5" fill="#2a2a2a"/>
<text id="TL_theta" x="443.00" y="51.90" font-family="'Liberation Serif', 'Times New Roman', serif" font-size="62" fill="#111" textLength="34.16" lengthAdjust="spacingAndGlyphs">θ</text>
<text id="TL_x" x="250.90" y="229.10" font-family="'Liberation Serif', 'Times New Roman', serif" font-size="66" fill="#111" textLength="29.39" lengthAdjust="spacingAndGlyphs">x</text>
<text id="TL_E" x="480.10" y="235.10" font-family="'Liberation Serif', 'Times New Roman', serif" font-size="61" fill="#111" textLength="33.54" lengthAdjust="spacingAndGlyphs">E</text>
<text id="TL_0" x="523.90" y="248.60" font-family="'Liberation Serif', 'Times New Roman', serif" font-size="45" fill="#111">0</text>
<text id="TL_comma" x="553.00" y="234.80" font-family="'Liberation Serif', 'Times New Roman', serif" font-size="61" fill="#111">,</text>
<text id="TL_v" x="580.30" y="232.80" font-family="'Liberation Serif', 'Times New Roman', serif" font-size="60" fill="#111" textLength="23.23" lengthAdjust="spacingAndGlyphs">v</text>
<text id="TL_eps" x="512.30" y="339.80" font-family="'Liberation Serif', 'Times New Roman', serif" font-size="47.5" fill="#111" textLength="143.96" lengthAdjust="spacing">ε(k, ω)</text>
<text id="L_Si" x="277.20" y="458.80" font-family="'Liberation Sans', Arial, sans-serif" font-size="54" fill="#2e2e2e">Si</text>
<text id="L_E" x="452.10" y="444.00" font-family="'Liberation Sans', Arial, sans-serif" font-size="41" fill="#2e2e2e" textLength="31.46" lengthAdjust="spacingAndGlyphs">E</text>
<text id="L_E0sub" x="480.80" y="457.20" font-family="'Liberation Sans', Arial, sans-serif" font-size="28" fill="#2e2e2e" textLength="16.90" lengthAdjust="spacingAndGlyphs">0</text>
<text id="L_E0rest" x="509.30" y="444.80" font-family="'Liberation Sans', Arial, sans-serif" font-size="41" fill="#2e2e2e" textLength="198.49" lengthAdjust="spacing">= 1000 eV</text>
<text id="L_th" x="525.20" y="509.00" font-family="'Liberation Serif', 'Times New Roman', serif" font-size="36" fill="#2e2e2e" textLength="21.07" lengthAdjust="spacingAndGlyphs">θ</text>
<text id="L_threst" x="559.00" y="509.00" font-family="'Liberation Sans', Arial, sans-serif" font-size="37" fill="#2e2e2e" textLength="77.37" lengthAdjust="spacing">= 0°</text>
<text id="lab_x2" x="632.50" y="624.20" font-family="'Liberation Sans', Arial, sans-serif" font-size="33" fill="#2e2e2e" textLength="105.14" lengthAdjust="spacing">x = 2 Å</text>
<text id="lab_5" x="666.30" y="722.30" font-family="'Liberation Sans', Arial, sans-serif" font-size="33" fill="#2e2e2e">5 Å</text>
<text id="lab_10" x="657.20" y="795.40" font-family="'Liberation Sans', Arial, sans-serif" font-size="33" fill="#2e2e2e" textLength="68.29" lengthAdjust="spacing">10 Å</text>
<text id="lab_15" x="657.20" y="868.00" font-family="'Liberation Sans', Arial, sans-serif" font-size="33" fill="#2e2e2e" textLength="68.29" lengthAdjust="spacing">15 Å</text>
<text id="lab_20" x="654.50" y="941.80" font-family="'Liberation Sans', Arial, sans-serif" font-size="33" fill="#2e2e2e" textLength="70.89" lengthAdjust="spacing">20 Å</text>
<text id="lab_40" x="656.60" y="1019.20" font-family="'Liberation Sans', Arial, sans-serif" font-size="33" fill="#2e2e2e" textLength="69.19" lengthAdjust="spacing">40 Å</text>
<text id="lab_100" x="649.20" y="1093.60" font-family="'Liberation Sans', Arial, sans-serif" font-size="33" fill="#2e2e2e" textLength="84.75" lengthAdjust="spacing">100 Å</text>
<text id="lab_bulk" x="661.00" y="1166.80" font-family="'Liberation Sans', Arial, sans-serif" font-size="33" fill="#2e2e2e">bulk</text>
<text id="Lt_0" x="185.20" y="1269.90" font-family="'Liberation Sans', Arial, sans-serif" font-size="37" fill="#2e2e2e">0</text>
<text id="Lt_10" x="301.70" y="1269.90" font-family="'Liberation Sans', Arial, sans-serif" font-size="37" fill="#2e2e2e" textLength="37.66" lengthAdjust="spacing">10</text>
<text id="Lt_20" x="424.20" y="1270.10" font-family="'Liberation Sans', Arial, sans-serif" font-size="37" fill="#2e2e2e" textLength="39.46" lengthAdjust="spacing">20</text>
<text id="Lt_30" x="549.60" y="1269.90" font-family="'Liberation Sans', Arial, sans-serif" font-size="37" fill="#2e2e2e" textLength="40.16" lengthAdjust="spacing">30</text>
<text id="Lt_40" x="673.40" y="1269.90" font-family="'Liberation Sans', Arial, sans-serif" font-size="37" fill="#2e2e2e" textLength="40.56" lengthAdjust="spacing">40</text>
<text id="L_xlab" x="247.00" y="1351.20" font-family="'Liberation Sans', Arial, sans-serif" font-size="47" fill="#2e2e2e" textLength="435.52" lengthAdjust="spacing">Energy loss <tspan font-family="'Liberation Serif', 'Times New Roman', serif" font-style="italic">ħ</tspan><tspan font-family="'Liberation Serif', 'Times New Roman', serif">ω</tspan> (eV)</text>
<text id="R_Si" x="1741.30" y="777.50" font-family="'Liberation Sans', Arial, sans-serif" font-size="61" fill="#2e2e2e" textLength="55.65" lengthAdjust="spacing">Si</text>
<text id="R_E" x="2006.70" y="874.30" font-family="'Liberation Sans', Arial, sans-serif" font-size="44.5" fill="#2e2e2e" textLength="30.92" lengthAdjust="spacingAndGlyphs">E</text>
<text id="R_E0sub" x="2040.30" y="889.20" font-family="'Liberation Sans', Arial, sans-serif" font-size="31" fill="#2e2e2e">0</text>
<text id="R_E0rest" x="2071.10" y="875.50" font-family="'Liberation Sans', Arial, sans-serif" font-size="44.5" fill="#2e2e2e" textLength="216.14" lengthAdjust="spacing">= 1000 eV</text>
<text id="R_th" x="2074.20" y="974.50" font-family="'Liberation Serif', 'Times New Roman', serif" font-size="44" fill="#2e2e2e" textLength="24.67" lengthAdjust="spacingAndGlyphs">θ</text>
<text id="R_threst" x="2110.90" y="974.70" font-family="'Liberation Sans', Arial, sans-serif" font-size="44" fill="#2e2e2e" textLength="86.90" lengthAdjust="spacing">= 0°</text>
<text id="R_y006" x="1547.70" y="774.30" font-family="'Liberation Sans', Arial, sans-serif" font-size="41.5" fill="#2e2e2e" textLength="101.86" lengthAdjust="spacing">0.006</text>
<text id="R_y004" x="1547.70" y="904.80" font-family="'Liberation Sans', Arial, sans-serif" font-size="41.5" fill="#2e2e2e" textLength="100.86" lengthAdjust="spacing">0.004</text>
<text id="R_y002" x="1547.70" y="1034.60" font-family="'Liberation Sans', Arial, sans-serif" font-size="41.5" fill="#2e2e2e" textLength="101.86" lengthAdjust="spacing">0.002</text>
<text id="R_y000" x="1547.70" y="1165.40" font-family="'Liberation Sans', Arial, sans-serif" font-size="41.5" fill="#2e2e2e" textLength="101.86" lengthAdjust="spacing">0.000</text>
<text id="R_x0" x="1692.20" y="1212.40" font-family="'Liberation Sans', Arial, sans-serif" font-size="41.5" fill="#2e2e2e">0</text>
<text id="R_x10" x="1817.20" y="1212.90" font-family="'Liberation Sans', Arial, sans-serif" font-size="41.5" fill="#2e2e2e">10</text>
<text id="R_x20" x="1951.20" y="1212.90" font-family="'Liberation Sans', Arial, sans-serif" font-size="41.5" fill="#2e2e2e" textLength="48.17" lengthAdjust="spacing">20</text>
<text id="R_x30" x="2088.00" y="1212.90" font-family="'Liberation Sans', Arial, sans-serif" font-size="41.5" fill="#2e2e2e">30</text>
<text id="R_x40" x="2224.50" y="1212.90" font-family="'Liberation Sans', Arial, sans-serif" font-size="41.5" fill="#2e2e2e">40</text>
<text id="R_xlab" x="1738.60" y="1316.20" font-family="'Liberation Sans', Arial, sans-serif" font-size="53" fill="#2e2e2e" textLength="362.43" lengthAdjust="spacing">Energy loss <tspan font-family="'Liberation Serif', 'Times New Roman', serif" font-style="italic">ħ</tspan><tspan font-family="'Liberation Serif', 'Times New Roman', serif">ω</tspan></text>
<text id="R_xlab2" x="2146.80" y="1316.20" font-family="'Liberation Sans', Arial, sans-serif" font-size="53" fill="#2e2e2e" textLength="104.74" lengthAdjust="spacing">(eV)</text>
<text id="M_approx" x="889.40" y="435.80" font-family="'Liberation Serif', 'Times New Roman', serif" font-size="44" fill="#2a2a2a" textLength="22.43" lengthAdjust="spacingAndGlyphs">≈</text>
<text id="M_lambda" x="923.80" y="432.90" font-family="'Liberation Serif', 'Times New Roman', serif" font-size="40" fill="#2a2a2a" textLength="20.92" lengthAdjust="spacingAndGlyphs">λ</text>
<text id="M_E" x="1229.40" y="757.80" font-family="'Liberation Serif', 'Times New Roman', serif" font-size="37" fill="#2a2a2a">E</text>
<text id="M_0" x="1251.00" y="767.50" font-family="'Liberation Serif', 'Times New Roman', serif" font-size="32" fill="#2a2a2a" font-weight="bold" textLength="16.40" lengthAdjust="spacingAndGlyphs">0</text>
<text id="M_comma" x="1271.50" y="758.70" font-family="'Liberation Serif', 'Times New Roman', serif" font-size="37" fill="#2a2a2a">,</text>
<text id="M_v" x="1289.30" y="757.80" font-family="'Liberation Serif', 'Times New Roman', serif" font-size="37" fill="#2a2a2a" font-weight="bold">v</text>
</g>
</svg>
</body></html>
